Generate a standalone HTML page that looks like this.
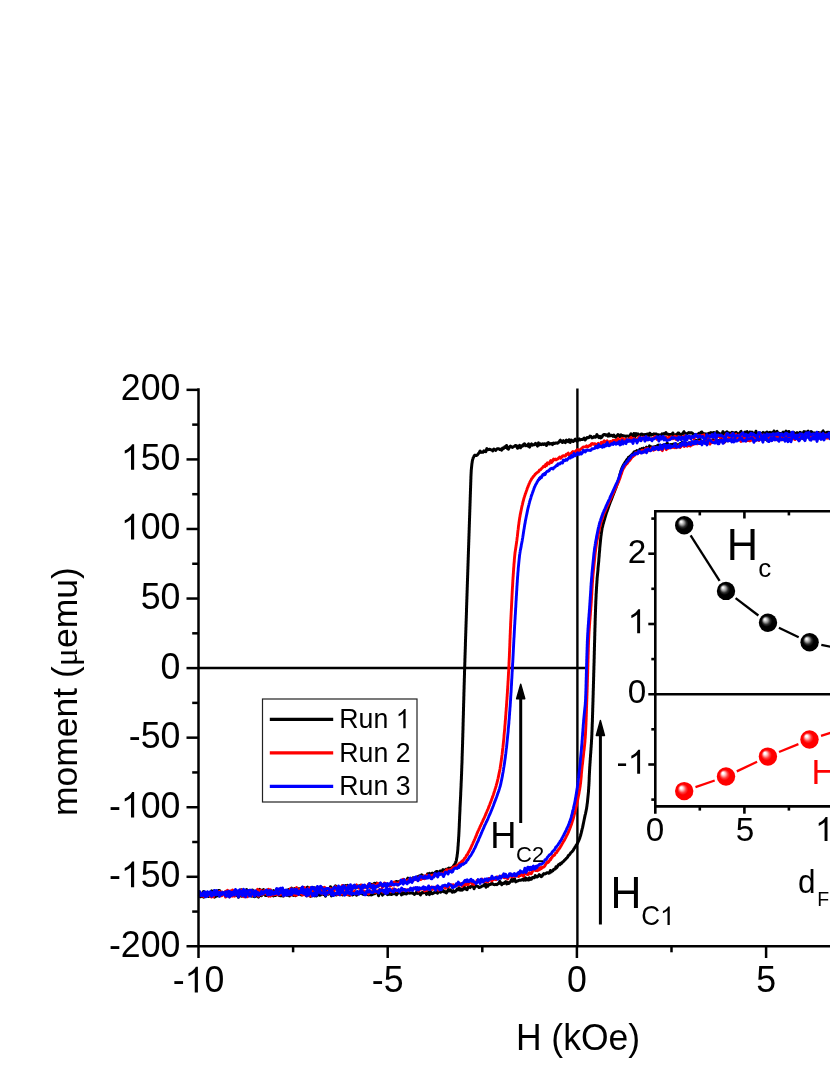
<!DOCTYPE html>
<html><head><meta charset="utf-8"><title>Hysteresis</title>
<style>
html,body{margin:0;padding:0;background:#fff;}
svg{display:block;font-family:"Liberation Sans",sans-serif;}
</style></head>
<body>
<svg width="830" height="1075" viewBox="0 0 830 1075" style="will-change:transform">
<defs>
<radialGradient id="gb" cx="0.5" cy="0.5" r="0.5" fx="0.32" fy="0.30">
<stop offset="0" stop-color="#fff"/><stop offset="0.09" stop-color="#f0f0f0"/><stop offset="0.27" stop-color="#9a9a9a"/><stop offset="0.44" stop-color="#2c2c2c"/><stop offset="0.6" stop-color="#000"/><stop offset="1" stop-color="#000"/>
</radialGradient>
<radialGradient id="gr" cx="0.5" cy="0.5" r="0.5" fx="0.32" fy="0.30">
<stop offset="0" stop-color="#fff"/><stop offset="0.1" stop-color="#fff"/><stop offset="0.24" stop-color="#ffb4b4"/><stop offset="0.42" stop-color="#ff3c3c"/><stop offset="0.58" stop-color="#f00"/><stop offset="1" stop-color="#f00"/>
</radialGradient>
</defs>
<!-- zero lines -->
<g stroke="#000" stroke-width="2.4" fill="none">
<path d="M198.5,668 H585.5"/>
<path d="M577.4,388.5 V946"/>
</g>
<!-- data curves -->
<g fill="none" stroke-width="3.1" stroke-linejoin="round" stroke-linecap="round">
<path d="M832.0,432.9 L831.0,434.3 L830.0,434.1 L829.0,432.3 L828.0,432.5 L827.0,432.3 L826.0,433.4 L825.0,432.7 L824.0,433.6 L823.0,430.8 L822.0,434.5 L821.0,432.8 L820.0,433.6 L819.0,432.7 L818.0,432.5 L817.0,433.5 L816.0,433.8 L815.0,432.9 L814.0,432.9 L813.0,433.9 L812.0,432.2 L811.0,431.5 L810.0,433.6 L809.0,432.5 L808.0,431.1 L807.0,432.2 L806.0,432.6 L805.0,431.8 L804.0,431.6 L803.0,433.1 L802.0,434.0 L801.0,432.8 L800.0,432.3 L799.0,433.5 L798.0,433.8 L797.0,432.7 L796.0,433.6 L795.0,434.1 L794.0,432.7 L793.0,432.2 L792.0,433.3 L791.0,433.2 L790.0,434.1 L789.0,431.5 L788.0,432.2 L787.0,432.0 L786.0,431.1 L785.0,433.1 L784.0,433.5 L783.0,432.2 L782.0,434.5 L781.0,433.8 L780.0,433.5 L779.0,433.2 L778.0,433.8 L777.0,431.4 L776.0,433.5 L775.0,433.5 L774.0,431.0 L773.0,433.2 L772.0,432.5 L771.0,433.6 L770.0,432.4 L769.0,432.9 L768.0,433.3 L767.0,432.0 L766.0,433.7 L765.0,432.9 L764.0,433.6 L763.0,432.4 L762.0,434.2 L761.0,433.7 L760.0,432.9 L759.0,433.8 L758.0,434.2 L757.0,434.8 L756.0,431.3 L755.0,433.9 L754.0,433.5 L753.0,433.0 L752.0,432.1 L751.0,434.6 L750.0,432.0 L749.0,433.9 L748.0,434.6 L747.0,431.6 L746.0,433.1 L745.0,432.1 L744.0,433.7 L743.0,435.0 L742.0,435.4 L741.0,431.4 L740.0,432.6 L739.0,433.9 L738.0,434.8 L737.0,433.5 L736.0,432.3 L735.0,433.3 L734.0,433.0 L733.0,432.8 L732.0,432.2 L731.0,433.4 L730.0,433.4 L729.0,433.0 L728.0,432.8 L727.0,431.8 L725.9,432.6 L724.9,434.4 L723.9,433.0 L722.9,431.7 L721.9,434.7 L720.9,433.9 L719.9,435.3 L718.9,433.4 L717.9,432.8 L716.9,431.6 L715.9,434.6 L714.9,435.2 L713.9,432.4 L712.9,432.6 L711.9,434.0 L710.9,432.6 L709.9,433.2 L708.9,433.2 L707.9,433.8 L706.9,434.8 L705.9,433.8 L704.9,434.9 L703.9,433.6 L702.9,434.4 L701.9,432.0 L700.9,432.4 L699.9,434.6 L698.9,433.3 L697.9,434.4 L696.9,434.4 L695.9,435.2 L694.9,434.6 L693.9,434.8 L692.9,433.6 L691.9,432.8 L690.9,432.8 L689.9,433.1 L688.9,432.6 L687.9,433.2 L686.9,433.6 L685.9,433.9 L684.9,433.3 L683.9,431.7 L682.9,433.6 L681.9,434.0 L680.9,434.9 L679.9,434.4 L678.9,433.1 L677.9,433.1 L676.9,435.7 L675.9,434.6 L674.9,435.8 L673.9,435.8 L672.9,433.0 L671.9,434.3 L670.9,434.4 L669.9,434.5 L668.9,434.5 L667.9,434.2 L666.9,434.2 L665.9,432.5 L664.9,434.1 L663.9,433.5 L662.9,434.5 L661.9,433.9 L660.9,435.0 L659.9,435.3 L658.9,434.8 L657.9,434.7 L656.9,434.4 L655.9,433.9 L654.9,434.3 L653.9,433.8 L652.9,434.8 L651.9,434.5 L650.9,435.2 L649.9,433.2 L648.9,435.6 L647.9,433.9 L646.9,434.1 L645.9,434.7 L644.9,434.4 L643.9,435.3 L642.9,434.5 L641.9,434.0 L640.9,434.2 L639.9,436.4 L638.9,435.1 L637.9,433.9 L636.9,435.2 L635.9,433.5 L634.9,437.0 L633.9,433.5 L632.9,435.7 L631.9,435.8 L630.9,433.8 L629.9,435.8 L628.9,436.5 L627.9,436.1 L626.9,435.9 L625.9,436.7 L624.9,435.9 L623.9,436.0 L622.9,435.6 L621.9,436.5 L620.9,434.8 L619.9,436.6 L618.9,435.2 L617.9,434.5 L616.9,436.0 L615.9,437.4 L614.9,436.6 L613.9,435.1 L612.9,436.4 L611.9,435.2 L610.9,435.6 L609.9,435.9 L608.9,433.9 L607.9,436.1 L606.9,434.8 L605.9,435.3 L604.9,434.5 L603.9,434.5 L602.9,435.2 L601.9,437.1 L600.9,438.0 L599.9,436.3 L598.9,437.6 L597.9,436.2 L596.9,434.6 L596.0,436.8 L595.0,437.3 L594.0,436.6 L593.0,437.5 L592.0,437.9 L591.0,436.5 L590.0,436.1 L589.0,437.5 L588.0,437.7 L587.0,437.5 L586.0,439.0 L585.1,439.9 L584.1,438.0 L583.1,439.3 L582.1,439.6 L581.1,439.5 L580.1,440.0 L579.1,438.8 L578.1,440.0 L577.1,441.4 L576.2,440.4 L575.2,439.1 L574.2,440.7 L573.2,441.5 L572.2,440.7 L571.2,440.0 L570.2,442.4 L569.2,439.7 L568.2,441.6 L567.3,441.1 L566.3,440.0 L565.3,442.6 L564.3,441.9 L563.3,440.6 L562.3,442.5 L561.3,441.6 L560.3,440.2 L559.3,441.5 L558.4,442.6 L557.4,443.2 L556.4,442.9 L555.4,443.0 L554.4,443.6 L553.4,443.0 L552.4,444.6 L551.4,443.5 L550.4,443.8 L549.4,444.1 L548.4,442.6 L547.5,443.1 L546.5,445.5 L545.5,444.2 L544.5,443.7 L543.5,444.5 L542.5,443.8 L541.5,444.7 L540.5,443.8 L539.5,444.8 L538.5,442.9 L537.5,446.1 L536.5,444.3 L535.5,443.3 L534.5,444.7 L533.5,444.7 L532.5,445.2 L531.5,443.9 L530.5,445.5 L529.5,447.1 L528.5,443.9 L527.5,445.9 L526.5,445.3 L525.5,445.7 L524.5,443.8 L523.5,444.5 L522.5,446.3 L521.5,445.9 L520.5,447.8 L519.5,445.4 L518.5,446.5 L517.5,448.3 L516.5,445.6 L515.5,445.4 L514.5,446.4 L513.5,446.6 L512.5,447.5 L511.5,446.9 L510.5,446.1 L509.5,447.2 L508.5,449.2 L507.6,448.7 L506.6,445.5 L505.6,447.5 L504.6,446.9 L503.6,448.6 L502.6,448.0 L501.6,450.1 L500.7,449.3 L499.7,449.4 L498.7,448.8 L497.7,448.7 L496.7,449.2 L495.8,450.4 L494.8,449.8 L493.8,449.0 L492.8,450.9 L491.8,449.9 L490.8,449.8 L489.8,449.2 L488.8,449.6 L487.8,449.7 L486.8,448.6 L485.8,451.7 L484.9,451.4 L483.9,450.9 L482.9,452.3 L482.0,452.1 L481.1,452.4 L480.1,451.0 L479.2,452.7 L478.3,453.7 L477.4,455.0 L476.5,455.5 L475.7,455.6 L475.0,455.1 L474.3,455.7 L473.6,457.2 L473.1,458.0 L472.9,458.9 L472.6,459.8 L472.4,460.8 L472.2,461.8 L472.1,462.8 L471.9,463.8 L471.8,464.8 L471.7,465.8 L471.6,466.8 L471.5,467.8 L471.4,468.8 L471.3,469.8 L471.2,470.8 L471.2,471.8 L471.1,472.8 L471.1,473.8 L471.0,474.8 L471.0,475.8 L470.9,476.8 L470.9,477.8 L470.9,478.8 L470.8,479.8 L470.8,480.8 L470.8,481.8 L470.7,482.8 L470.7,483.8 L470.7,484.8 L470.6,485.8 L470.6,486.8 L470.6,487.8 L470.5,488.8 L470.5,489.8 L470.5,490.8 L470.4,491.8 L470.4,492.8 L470.4,493.8 L470.3,494.8 L470.3,495.8 L470.3,496.8 L470.2,497.8 L470.2,498.8 L470.2,499.8 L470.1,500.8 L470.1,501.8 L470.1,502.8 L470.0,503.8 L470.0,504.8 L470.0,505.8 L469.9,506.8 L469.9,507.8 L469.9,508.8 L469.8,509.8 L469.8,510.8 L469.8,511.8 L469.7,512.8 L469.7,513.8 L469.7,514.8 L469.6,515.8 L469.6,516.8 L469.6,517.8 L469.5,518.8 L469.5,519.8 L469.5,520.8 L469.4,521.8 L469.4,522.8 L469.4,523.8 L469.3,524.8 L469.3,525.8 L469.3,526.8 L469.2,527.8 L469.2,528.8 L469.2,529.8 L469.1,530.8 L469.1,531.8 L469.1,532.8 L469.0,533.8 L469.0,534.8 L469.0,535.8 L468.9,536.8 L468.9,537.8 L468.9,538.8 L468.8,539.8 L468.8,540.8 L468.8,541.8 L468.7,542.8 L468.7,543.8 L468.7,544.8 L468.6,545.8 L468.6,546.8 L468.6,547.8 L468.5,548.8 L468.5,549.8 L468.5,550.8 L468.4,551.8 L468.4,552.8 L468.4,553.8 L468.3,554.8 L468.3,555.8 L468.3,556.8 L468.2,557.8 L468.2,558.8 L468.2,559.8 L468.1,560.8 L468.1,561.8 L468.1,562.8 L468.0,563.8 L468.0,564.8 L468.0,565.8 L467.9,566.8 L467.9,567.8 L467.9,568.8 L467.8,569.8 L467.8,570.8 L467.8,571.8 L467.7,572.8 L467.7,573.8 L467.7,574.8 L467.6,575.8 L467.6,576.8 L467.6,577.8 L467.5,578.8 L467.5,579.8 L467.5,580.8 L467.4,581.8 L467.4,582.8 L467.4,583.8 L467.3,584.8 L467.3,585.8 L467.3,586.8 L467.2,587.8 L467.2,588.8 L467.2,589.8 L467.1,590.8 L467.1,591.8 L467.1,592.8 L467.0,593.8 L467.0,594.8 L467.0,595.8 L466.9,596.8 L466.9,597.8 L466.9,598.8 L466.8,599.8 L466.8,600.8 L466.8,601.8 L466.7,602.8 L466.7,603.8 L466.7,604.8 L466.6,605.8 L466.6,606.8 L466.6,607.8 L466.5,608.8 L466.5,609.8 L466.5,610.8 L466.5,611.8 L466.4,612.8 L466.4,613.8 L466.4,614.8 L466.3,615.8 L466.3,616.8 L466.3,617.8 L466.2,618.8 L466.2,619.8 L466.2,620.8 L466.1,621.8 L466.1,622.8 L466.1,623.8 L466.0,624.8 L466.0,625.8 L466.0,626.8 L465.9,627.8 L465.9,628.8 L465.9,629.8 L465.8,630.8 L465.8,631.8 L465.8,632.8 L465.7,633.8 L465.7,634.8 L465.7,635.8 L465.6,636.8 L465.6,637.8 L465.6,638.8 L465.5,639.8 L465.5,640.8 L465.5,641.8 L465.4,642.8 L465.4,643.8 L465.4,644.8 L465.4,645.8 L465.3,646.8 L465.3,647.8 L465.3,648.8 L465.2,649.8 L465.2,650.8 L465.2,651.8 L465.1,652.8 L465.1,653.8 L465.1,654.8 L465.0,655.8 L465.0,656.8 L465.0,657.8 L464.9,658.8 L464.9,659.8 L464.9,660.8 L464.9,661.8 L464.8,662.8 L464.8,663.8 L464.8,664.8 L464.7,665.8 L464.7,666.8 L464.7,667.8 L464.6,668.8 L464.6,669.8 L464.6,670.8 L464.5,671.8 L464.5,672.8 L464.5,673.8 L464.5,674.8 L464.4,675.8 L464.4,676.8 L464.4,677.8 L464.3,678.8 L464.3,679.8 L464.3,680.8 L464.3,681.8 L464.2,682.8 L464.2,683.8 L464.2,684.8 L464.1,685.8 L464.1,686.8 L464.1,687.8 L464.1,688.8 L464.0,689.8 L464.0,690.8 L464.0,691.8 L463.9,692.8 L463.9,693.8 L463.9,694.8 L463.9,695.8 L463.8,696.8 L463.8,697.8 L463.8,698.8 L463.8,699.8 L463.7,700.8 L463.7,701.8 L463.7,702.8 L463.6,703.8 L463.6,704.8 L463.6,705.8 L463.6,706.8 L463.5,707.8 L463.5,708.8 L463.5,709.8 L463.5,710.8 L463.4,711.8 L463.4,712.8 L463.4,713.8 L463.4,714.8 L463.3,715.8 L463.3,716.8 L463.3,717.8 L463.2,718.8 L463.2,719.8 L463.2,720.8 L463.2,721.8 L463.1,722.8 L463.1,723.8 L463.1,724.8 L463.1,725.8 L463.0,726.8 L463.0,727.8 L463.0,728.8 L463.0,729.8 L462.9,730.8 L462.9,731.8 L462.9,732.8 L462.8,733.8 L462.8,734.8 L462.8,735.8 L462.8,736.8 L462.7,737.8 L462.7,738.8 L462.7,739.8 L462.6,740.8 L462.6,741.8 L462.6,742.8 L462.6,743.8 L462.5,744.8 L462.5,745.8 L462.5,746.8 L462.4,747.8 L462.4,748.8 L462.4,749.8 L462.3,750.8 L462.3,751.8 L462.3,752.8 L462.2,753.8 L462.2,754.8 L462.2,755.8 L462.1,756.8 L462.1,757.8 L462.1,758.8 L462.1,759.8 L462.0,760.8 L462.0,761.8 L462.0,762.8 L461.9,763.8 L461.9,764.8 L461.8,765.8 L461.8,766.8 L461.8,767.8 L461.7,768.8 L461.7,769.8 L461.7,770.8 L461.6,771.8 L461.6,772.8 L461.6,773.8 L461.5,774.8 L461.5,775.8 L461.4,776.8 L461.4,777.8 L461.4,778.8 L461.3,779.8 L461.3,780.8 L461.2,781.8 L461.2,782.8 L461.1,783.8 L461.1,784.8 L461.1,785.8 L461.0,786.8 L461.0,787.8 L460.9,788.8 L460.9,789.8 L460.8,790.8 L460.8,791.8 L460.7,792.8 L460.7,793.8 L460.7,794.8 L460.6,795.8 L460.6,796.8 L460.5,797.8 L460.5,798.8 L460.4,799.8 L460.4,800.8 L460.3,801.8 L460.3,802.8 L460.2,803.8 L460.2,804.8 L460.1,805.8 L460.1,806.8 L460.0,807.8 L460.0,808.8 L460.0,809.8 L459.9,810.8 L459.9,811.8 L459.8,812.8 L459.8,813.8 L459.7,814.8 L459.7,815.8 L459.6,816.8 L459.6,817.8 L459.6,818.8 L459.5,819.8 L459.5,820.8 L459.4,821.8 L459.4,822.8 L459.3,823.8 L459.3,824.8 L459.3,825.8 L459.2,826.8 L459.2,827.8 L459.1,828.8 L459.1,829.8 L459.0,830.8 L459.0,831.8 L458.9,832.8 L458.9,833.8 L458.8,834.8 L458.8,835.8 L458.7,836.8 L458.6,837.8 L458.6,838.8 L458.5,839.8 L458.5,840.8 L458.4,841.8 L458.3,842.8 L458.2,843.8 L458.2,844.8 L458.1,845.8 L458.0,846.8 L457.9,847.8 L457.9,848.8 L457.8,849.8 L457.7,850.8 L457.6,851.8 L457.5,852.8 L457.4,853.8 L457.2,854.8 L457.1,855.8 L457.0,856.8 L456.8,857.8 L456.6,858.7 L456.5,859.7 L456.3,860.6 L456.0,861.6 L455.6,862.6 L455.2,863.4 L454.7,864.6 L454.2,865.0 L453.6,865.8 L452.9,867.0 L452.1,867.5 L451.3,868.5 L450.5,868.2 L449.6,868.4 L448.7,868.0 L447.8,868.8 L446.9,869.2 L445.9,869.2 L445.0,871.1 L444.0,870.5 L443.0,869.6 L442.0,873.3 L441.0,871.0 L440.1,870.9 L439.1,873.4 L438.1,873.6 L437.2,871.6 L436.2,871.5 L435.3,872.3 L434.3,874.6 L433.3,873.4 L432.3,873.1 L431.4,874.1 L430.4,875.6 L429.4,873.3 L428.4,874.4 L427.5,873.8 L426.5,877.2 L425.5,877.4 L424.5,876.8 L423.5,876.0 L422.6,877.0 L421.6,874.8 L420.6,877.1 L419.6,875.8 L418.7,876.1 L417.7,876.9 L416.7,877.4 L415.7,878.6 L414.8,879.0 L413.8,878.8 L412.8,877.9 L411.8,879.7 L410.9,879.1 L409.9,880.7 L408.9,878.9 L407.9,878.1 L407.0,879.7 L406.0,882.2 L405.0,881.0 L404.0,880.6 L403.1,881.9 L402.1,881.6 L401.1,881.7 L400.1,881.0 L399.1,881.7 L398.2,882.1 L397.2,881.6 L396.2,881.4 L395.2,882.8 L394.2,883.9 L393.3,883.8 L392.3,883.9 L391.3,884.0 L390.3,885.6 L389.3,884.1 L388.3,885.1 L387.3,886.0 L386.4,884.3 L385.4,884.5 L384.4,885.4 L383.4,886.1 L382.4,884.8 L381.4,884.9 L380.4,884.7 L379.4,883.6 L378.4,886.1 L377.4,884.7 L376.4,883.2 L375.4,885.0 L374.4,883.3 L373.4,884.2 L372.4,885.3 L371.4,884.3 L370.4,886.5 L369.4,883.9 L368.4,885.8 L367.4,886.2 L366.4,887.3 L365.4,886.8 L364.4,886.2 L363.4,886.0 L362.4,885.9 L361.4,887.1 L360.4,885.3 L359.4,886.6 L358.4,886.0 L357.4,886.3 L356.4,885.8 L355.4,888.2 L354.4,885.6 L353.4,886.6 L352.4,886.6 L351.4,887.1 L350.4,887.1 L349.4,887.0 L348.4,887.7 L347.4,885.3 L346.4,887.0 L345.4,885.7 L344.4,887.3 L343.4,885.8 L342.4,886.0 L341.4,887.1 L340.4,888.9 L339.4,888.1 L338.4,887.7 L337.4,889.1 L336.4,886.8 L335.4,885.8 L334.4,887.5 L333.5,887.7 L332.5,889.4 L331.5,890.0 L330.5,886.7 L329.5,890.1 L328.5,889.8 L327.5,889.2 L326.5,888.9 L325.5,890.4 L324.5,888.6 L323.5,888.0 L322.5,888.6 L321.5,887.3 L320.5,889.2 L319.5,888.7 L318.5,889.2 L317.5,889.3 L316.5,887.8 L315.5,890.3 L314.5,887.9 L313.5,889.9 L312.5,887.4 L311.5,889.5 L310.5,888.2 L309.5,889.1 L308.5,888.4 L307.5,887.1 L306.5,888.0 L305.5,889.3 L304.5,889.9 L303.5,887.8 L302.5,887.3 L301.5,888.4 L300.5,889.1 L299.5,888.7 L298.5,888.7 L297.5,890.4 L296.5,890.5 L295.5,890.4 L294.5,888.6 L293.5,889.7 L292.5,889.5 L291.5,888.2 L290.5,890.8 L289.5,890.1 L288.5,889.5 L287.5,891.5 L286.5,890.8 L285.5,891.0 L284.5,891.5 L283.5,891.1 L282.5,889.1 L281.5,890.0 L280.5,891.6 L279.5,889.8 L278.5,890.6 L277.5,891.1 L276.5,892.2 L275.5,892.1 L274.5,891.7 L273.5,890.6 L272.5,891.8 L271.5,891.2 L270.5,890.5 L269.5,892.1 L268.5,891.3 L267.5,890.1 L266.5,892.3 L265.5,890.7 L264.5,891.7 L263.5,889.6 L262.5,891.3 L261.5,890.3 L260.5,890.3 L259.5,889.4 L258.5,893.5 L257.5,891.3 L256.5,891.7 L255.5,892.7 L254.5,891.3 L253.5,892.0 L252.5,890.1 L251.5,891.7 L250.5,891.2 L249.5,892.2 L248.5,891.8 L247.5,890.2 L246.5,889.6 L245.5,890.5 L244.5,892.4 L243.5,892.2 L242.5,892.2 L241.5,889.8 L240.5,889.9 L239.5,891.3 L238.5,891.6 L237.5,891.2 L236.5,892.4 L235.5,891.9 L234.5,891.0 L233.5,891.3 L232.5,892.4 L231.5,892.3 L230.5,892.2 L229.5,894.3 L228.5,892.0 L227.5,892.4 L226.5,891.3 L225.5,892.0 L224.5,893.0 L223.5,893.1 L222.5,892.3 L221.5,892.8 L220.5,892.5 L219.5,890.5 L218.5,890.5 L217.5,894.6 L216.5,893.5 L215.5,892.7 L214.5,890.9 L213.5,891.4 L212.5,894.2 L211.5,890.9 L210.5,892.6 L209.5,893.9 L208.5,893.2 L207.5,893.8 L206.5,892.9 L205.5,895.1 L204.5,892.0 L203.5,891.6 L202.5,893.4 L201.5,894.6 L200.5,893.1 L199.5,894.2" stroke="#000" stroke-width="3.0"/>
<path d="M199.5,895.5 L200.5,896.7 L201.5,896.4 L202.5,896.4 L203.5,897.2 L204.5,894.2 L205.5,894.8 L206.5,894.1 L207.5,895.3 L208.5,896.5 L209.5,895.4 L210.5,896.0 L211.5,893.5 L212.5,895.4 L213.5,894.4 L214.5,897.1 L215.5,896.2 L216.5,896.2 L217.5,895.1 L218.5,895.8 L219.5,895.9 L220.5,894.8 L221.5,894.5 L222.5,894.9 L223.5,894.3 L224.5,894.4 L225.5,894.7 L226.5,894.3 L227.5,895.9 L228.5,893.5 L229.5,896.0 L230.5,894.5 L231.5,894.6 L232.5,893.8 L233.5,895.1 L234.5,894.9 L235.5,895.5 L236.5,894.7 L237.5,895.4 L238.5,897.2 L239.5,895.5 L240.5,894.6 L241.5,896.2 L242.5,895.0 L243.5,895.7 L244.5,895.8 L245.5,894.7 L246.5,893.1 L247.5,894.6 L248.5,895.6 L249.5,894.6 L250.5,895.4 L251.5,896.1 L252.5,894.4 L253.5,896.3 L254.5,896.7 L255.5,896.1 L256.5,896.1 L257.5,896.2 L258.5,897.1 L259.5,895.3 L260.5,895.0 L261.5,895.7 L262.5,894.2 L263.5,893.5 L264.5,894.3 L265.5,895.5 L266.5,895.5 L267.5,893.4 L268.5,893.0 L269.5,894.5 L270.5,894.6 L271.5,894.7 L272.5,895.5 L273.5,896.0 L274.5,895.1 L275.5,895.5 L276.5,893.6 L277.5,893.5 L278.5,895.1 L279.5,895.5 L280.5,895.7 L281.5,895.7 L282.5,895.9 L283.5,895.9 L284.5,893.2 L285.5,894.2 L286.5,895.2 L287.5,895.3 L288.5,893.1 L289.5,895.9 L290.5,894.2 L291.5,894.4 L292.5,895.0 L293.5,895.5 L294.5,893.2 L295.5,895.7 L296.5,894.7 L297.5,893.9 L298.5,894.5 L299.5,892.8 L300.5,894.2 L301.5,895.0 L302.5,894.0 L303.5,894.3 L304.5,894.4 L305.5,894.6 L306.5,895.6 L307.5,894.5 L308.5,894.3 L309.5,895.1 L310.5,896.5 L311.5,894.2 L312.5,895.0 L313.5,892.8 L314.5,895.9 L315.5,895.2 L316.5,895.9 L317.5,894.4 L318.5,893.4 L319.5,895.3 L320.5,895.0 L321.5,893.3 L322.5,892.6 L323.5,894.5 L324.5,893.9 L325.5,896.2 L326.5,893.5 L327.5,893.6 L328.5,894.1 L329.5,892.4 L330.5,893.1 L331.5,895.9 L332.5,894.0 L333.5,893.5 L334.5,892.8 L335.5,894.8 L336.5,894.9 L337.5,894.4 L338.5,893.8 L339.5,894.5 L340.5,894.7 L341.5,893.6 L342.5,895.0 L343.5,892.3 L344.5,893.0 L345.5,894.1 L346.5,894.3 L347.5,893.1 L348.5,894.5 L349.5,895.3 L350.5,894.6 L351.5,894.3 L352.5,894.9 L353.5,894.4 L354.5,892.7 L355.5,893.6 L356.5,895.2 L357.5,892.7 L358.5,893.9 L359.5,893.6 L360.5,893.2 L361.5,893.0 L362.5,894.0 L363.5,894.4 L364.5,894.3 L365.5,892.5 L366.5,893.7 L367.5,894.4 L368.5,894.9 L369.5,894.6 L370.5,894.8 L371.5,894.9 L372.5,894.6 L373.5,892.9 L374.5,893.8 L375.5,892.9 L376.5,891.6 L377.5,891.9 L378.5,895.7 L379.5,892.5 L380.5,891.7 L381.5,893.0 L382.5,895.1 L383.5,893.4 L384.5,893.8 L385.5,893.1 L386.5,893.3 L387.5,894.7 L388.5,894.3 L389.5,893.4 L390.5,894.4 L391.5,894.6 L392.5,893.2 L393.5,893.8 L394.5,893.8 L395.5,892.9 L396.5,894.8 L397.5,893.4 L398.5,893.0 L399.5,891.9 L400.5,892.2 L401.5,894.9 L402.5,892.2 L403.5,893.9 L404.5,893.0 L405.5,893.8 L406.5,893.9 L407.5,892.3 L408.5,892.8 L409.5,893.2 L410.5,893.1 L411.5,893.0 L412.5,892.7 L413.5,893.8 L414.5,894.4 L415.5,893.6 L416.5,892.2 L417.5,893.4 L418.5,893.0 L419.5,893.6 L420.5,895.0 L421.5,892.8 L422.5,893.1 L423.5,892.1 L424.5,892.5 L425.5,892.3 L426.5,894.5 L427.5,893.1 L428.5,892.1 L429.5,894.6 L430.5,891.3 L431.5,893.5 L432.5,893.7 L433.5,893.2 L434.5,892.3 L435.5,892.4 L436.5,892.2 L437.5,893.2 L438.5,890.3 L439.5,891.7 L440.5,892.3 L441.5,891.6 L442.5,890.2 L443.5,891.7 L444.4,891.0 L445.4,892.4 L446.4,892.9 L447.4,891.4 L448.4,889.3 L449.4,890.8 L450.4,889.9 L451.4,891.3 L452.3,892.2 L453.3,890.7 L454.3,892.0 L455.3,891.5 L456.3,890.5 L457.3,888.8 L458.2,889.7 L459.2,887.9 L460.2,890.2 L461.2,889.1 L462.2,890.2 L463.2,889.1 L464.2,886.6 L465.2,889.0 L466.1,889.1 L467.1,889.7 L468.1,886.9 L469.1,886.8 L470.1,887.6 L471.1,886.3 L472.1,885.8 L473.1,886.0 L474.1,888.8 L475.1,886.1 L476.1,885.6 L477.0,886.2 L478.0,886.4 L479.0,887.6 L480.0,887.2 L481.0,886.9 L482.0,886.0 L483.0,886.0 L484.0,885.1 L485.0,884.0 L486.0,887.2 L487.0,884.6 L487.9,886.1 L488.9,884.5 L489.9,884.6 L490.9,884.3 L491.9,882.9 L492.9,884.1 L493.9,884.5 L494.9,884.7 L495.9,884.3 L496.9,884.7 L497.8,883.8 L498.8,883.5 L499.8,881.4 L500.8,882.8 L501.8,884.7 L502.8,883.2 L503.8,883.6 L504.8,882.4 L505.8,881.6 L506.7,884.0 L507.7,882.4 L508.7,883.4 L509.7,882.4 L510.7,881.3 L511.7,879.4 L512.7,881.3 L513.7,879.5 L514.6,878.9 L515.6,881.9 L516.6,881.3 L517.6,881.1 L518.6,880.4 L519.6,880.1 L520.5,880.3 L521.5,879.8 L522.5,879.6 L523.5,880.2 L524.5,877.3 L525.5,880.2 L526.5,878.4 L527.5,879.9 L528.5,880.1 L529.4,877.9 L530.4,879.4 L531.4,879.2 L532.4,877.5 L533.4,877.5 L534.4,877.8 L535.3,875.6 L536.3,876.7 L537.3,877.0 L538.2,876.1 L539.2,874.7 L540.1,875.4 L541.1,876.7 L542.0,876.2 L542.9,874.6 L543.9,873.6 L544.8,874.0 L545.7,873.7 L546.7,872.7 L547.7,872.7 L548.6,873.2 L549.5,873.1 L550.4,870.5 L551.2,872.0 L552.1,870.9 L552.9,870.7 L553.6,869.5 L554.4,869.2 L555.2,869.1 L556.0,866.7 L556.7,867.8 L557.5,866.5 L558.3,864.9 L559.0,864.3 L559.8,864.7 L560.5,863.4 L561.3,863.7 L562.0,862.7 L562.8,861.8 L563.5,861.5 L564.2,860.5 L564.9,860.0 L565.6,859.3 L566.3,858.4 L567.0,857.8 L567.7,857.0 L568.3,855.6 L569.0,855.2 L569.7,854.5 L570.3,853.6 L570.9,852.6 L571.6,852.1 L572.2,851.5 L572.8,850.7 L573.3,850.2 L573.9,848.9 L574.5,848.1 L575.0,847.2 L575.6,846.4 L576.1,845.6 L576.6,844.5 L577.1,844.0 L577.6,843.1 L578.0,842.2 L578.5,841.1 L578.9,840.3 L579.2,839.5 L579.6,838.5 L579.9,837.5 L580.2,836.6 L580.5,835.7 L580.8,834.7 L581.0,833.7 L581.3,832.7 L581.5,831.8 L581.8,830.8 L582.0,829.8 L582.2,828.8 L582.5,827.9 L582.7,826.9 L582.9,825.9 L583.1,824.9 L583.3,823.9 L583.5,823.0 L583.7,822.0 L583.9,821.0 L584.1,820.0 L584.3,819.0 L584.5,818.1 L584.7,817.1 L584.9,816.1 L585.1,815.1 L585.4,814.1 L585.6,813.2 L585.8,812.2 L586.0,811.2 L586.2,810.2 L586.4,809.2 L586.6,808.3 L586.7,807.3 L586.9,806.3 L587.0,805.3 L587.1,804.3 L587.3,803.3 L587.4,802.3 L587.5,801.3 L587.6,800.3 L587.7,799.4 L587.8,798.4 L587.9,797.4 L588.0,796.4 L588.1,795.4 L588.2,794.4 L588.3,793.4 L588.4,792.4 L588.5,791.4 L588.5,790.4 L588.6,789.4 L588.7,788.4 L588.7,787.4 L588.8,786.4 L588.9,785.4 L588.9,784.4 L589.0,783.4 L589.0,782.4 L589.1,781.4 L589.1,780.4 L589.2,779.4 L589.2,778.4 L589.2,777.4 L589.3,776.4 L589.3,775.4 L589.4,774.4 L589.4,773.4 L589.5,772.4 L589.5,771.4 L589.6,770.4 L589.6,769.4 L589.7,768.4 L589.7,767.4 L589.8,766.4 L589.9,765.4 L589.9,764.4 L590.0,763.4 L590.1,762.4 L590.1,761.4 L590.2,760.4 L590.3,759.4 L590.3,758.4 L590.4,757.4 L590.5,756.4 L590.5,755.4 L590.6,754.4 L590.7,753.4 L590.8,752.4 L590.8,751.4 L590.9,750.4 L591.0,749.4 L591.0,748.5 L591.1,747.5 L591.2,746.5 L591.2,745.5 L591.3,744.5 L591.4,743.5 L591.4,742.5 L591.5,741.5 L591.5,740.5 L591.6,739.5 L591.7,738.5 L591.7,737.5 L591.8,736.5 L591.8,735.5 L591.9,734.5 L591.9,733.5 L591.9,732.5 L592.0,731.5 L592.0,730.5 L592.1,729.5 L592.1,728.5 L592.1,727.5 L592.2,726.5 L592.2,725.5 L592.2,724.5 L592.3,723.5 L592.3,722.5 L592.4,721.5 L592.4,720.5 L592.4,719.5 L592.4,718.5 L592.5,717.5 L592.5,716.5 L592.5,715.5 L592.6,714.5 L592.6,713.5 L592.6,712.5 L592.7,711.5 L592.7,710.5 L592.7,709.5 L592.7,708.5 L592.8,707.5 L592.8,706.5 L592.8,705.5 L592.9,704.5 L592.9,703.5 L592.9,702.5 L593.0,701.5 L593.0,700.5 L593.0,699.5 L593.0,698.5 L593.1,697.5 L593.1,696.5 L593.1,695.5 L593.2,694.5 L593.2,693.5 L593.2,692.5 L593.2,691.5 L593.3,690.5 L593.3,689.5 L593.3,688.5 L593.4,687.5 L593.4,686.5 L593.4,685.5 L593.4,684.5 L593.5,683.5 L593.5,682.5 L593.5,681.5 L593.6,680.5 L593.6,679.5 L593.6,678.5 L593.6,677.5 L593.7,676.5 L593.7,675.5 L593.7,674.5 L593.7,673.5 L593.8,672.5 L593.8,671.5 L593.8,670.5 L593.9,669.5 L593.9,668.5 L593.9,667.5 L593.9,666.5 L594.0,665.5 L594.0,664.5 L594.0,663.5 L594.1,662.5 L594.1,661.5 L594.1,660.5 L594.1,659.5 L594.2,658.5 L594.2,657.5 L594.2,656.5 L594.2,655.5 L594.3,654.5 L594.3,653.5 L594.3,652.5 L594.3,651.5 L594.4,650.5 L594.4,649.5 L594.4,648.5 L594.4,647.5 L594.5,646.5 L594.5,645.5 L594.5,644.5 L594.5,643.5 L594.6,642.5 L594.6,641.5 L594.6,640.5 L594.7,639.5 L594.7,638.5 L594.7,637.5 L594.7,636.5 L594.8,635.5 L594.8,634.5 L594.8,633.5 L594.8,632.5 L594.9,631.5 L594.9,630.5 L594.9,629.5 L594.9,628.5 L595.0,627.5 L595.0,626.5 L595.0,625.5 L595.1,624.5 L595.1,623.5 L595.1,622.5 L595.1,621.5 L595.2,620.5 L595.2,619.5 L595.2,618.5 L595.3,617.5 L595.3,616.5 L595.3,615.5 L595.4,614.5 L595.4,613.5 L595.4,612.5 L595.5,611.5 L595.5,610.5 L595.5,609.5 L595.6,608.5 L595.6,607.5 L595.6,606.5 L595.7,605.5 L595.7,604.5 L595.8,603.5 L595.8,602.5 L595.8,601.5 L595.9,600.5 L595.9,599.5 L596.0,598.5 L596.0,597.5 L596.1,596.5 L596.1,595.5 L596.1,594.5 L596.2,593.5 L596.3,592.5 L596.3,591.5 L596.4,590.5 L596.4,589.5 L596.5,588.5 L596.5,587.5 L596.6,586.5 L596.7,585.5 L596.7,584.5 L596.8,583.6 L596.9,582.6 L596.9,581.6 L597.0,580.6 L597.1,579.6 L597.1,578.6 L597.2,577.6 L597.3,576.6 L597.4,575.6 L597.5,574.6 L597.6,573.6 L597.7,572.6 L597.8,571.6 L597.9,570.6 L598.0,569.6 L598.0,568.6 L598.1,567.6 L598.2,566.6 L598.3,565.6 L598.4,564.6 L598.5,563.6 L598.6,562.6 L598.7,561.6 L598.8,560.6 L598.8,559.6 L598.9,558.6 L599.0,557.6 L599.1,556.6 L599.2,555.6 L599.2,554.7 L599.3,553.7 L599.4,552.7 L599.5,551.7 L599.6,550.7 L599.7,549.7 L599.7,548.7 L599.8,547.7 L599.9,546.7 L600.0,545.7 L600.1,544.7 L600.2,543.7 L600.3,542.7 L600.4,541.7 L600.5,540.7 L600.6,539.7 L600.7,538.7 L600.8,537.7 L600.9,536.7 L601.0,535.7 L601.2,534.7 L601.3,533.7 L601.4,532.8 L601.6,531.8 L601.7,530.8 L601.9,529.8 L602.0,528.8 L602.2,527.8 L602.5,526.9 L602.7,525.9 L602.9,524.9 L603.2,523.9 L603.5,523.0 L603.7,522.0 L604.0,521.0 L604.3,520.1 L604.6,519.1 L604.8,518.2 L605.1,517.2 L605.4,516.2 L605.7,515.3 L606.0,514.4 L606.3,513.4 L606.6,512.4 L607.0,511.5 L607.3,510.5 L607.6,509.6 L608.0,508.6 L608.3,507.7 L608.6,506.8 L609.0,505.8 L609.3,504.9 L609.6,504.0 L610.0,503.0 L610.3,502.0 L610.7,501.2 L611.1,500.2 L611.4,499.4 L611.8,498.4 L612.2,497.5 L612.5,496.4 L612.9,495.5 L613.3,494.6 L613.6,493.7 L614.0,492.7 L614.4,491.8 L614.7,490.9 L615.1,489.9 L615.4,489.0 L615.8,488.1 L616.1,487.3 L616.5,486.2 L616.8,485.3 L617.2,484.3 L617.5,483.4 L617.8,482.4 L618.2,481.6 L618.4,480.6 L618.7,479.6 L619.0,478.6 L619.2,477.6 L619.5,476.7 L619.7,475.6 L619.9,474.7 L620.2,473.7 L620.5,472.7 L620.7,471.7 L621.0,470.8 L621.3,469.9 L621.6,469.0 L622.0,468.0 L622.4,467.2 L622.8,466.2 L623.3,465.3 L623.8,464.3 L624.3,463.8 L624.8,462.7 L625.4,462.0 L626.0,461.1 L626.6,460.0 L627.2,459.3 L627.8,458.9 L628.4,457.5 L629.1,457.2 L629.8,456.4 L630.5,455.9 L631.2,455.2 L631.9,454.6 L632.7,453.6 L633.4,453.1 L634.2,451.9 L635.1,451.5 L636.0,452.2 L636.9,450.6 L637.9,451.6 L638.8,451.4 L639.8,449.4 L640.7,450.3 L641.7,448.7 L642.6,449.5 L643.6,448.1 L644.6,449.0 L645.5,448.6 L646.5,447.2 L647.5,449.8 L648.5,448.7 L649.5,445.9 L650.5,447.6 L651.5,446.8 L652.4,449.0 L653.4,446.9 L654.4,447.1 L655.4,446.4 L656.4,447.0 L657.4,445.6 L658.4,445.1 L659.4,445.5 L660.4,445.3 L661.4,446.3 L662.3,445.6 L663.3,444.9 L664.3,445.0 L665.3,444.4 L666.3,445.5 L667.3,443.2 L668.3,444.9 L669.3,446.4 L670.3,444.7 L671.3,444.4 L672.3,445.1 L673.3,444.1 L674.3,444.2 L675.3,445.6 L676.3,444.1 L677.3,446.6 L678.3,445.1 L679.3,444.3 L680.3,443.6 L681.3,443.9 L682.3,442.1 L683.2,444.2 L684.2,444.7 L685.2,444.3 L686.2,443.0 L687.2,444.0 L688.2,443.8 L689.2,442.8 L690.2,443.1 L691.2,443.7 L692.2,443.0 L693.2,441.9 L694.1,442.3 L695.1,442.2 L696.1,440.3 L697.1,442.0 L698.1,441.6 L699.1,439.5 L700.1,439.6 L701.1,443.2 L702.1,441.5 L703.1,442.6 L704.1,440.8 L705.1,442.6 L706.1,441.5 L707.1,440.2 L708.1,441.1 L709.1,442.3 L710.1,442.6 L711.1,441.1 L712.1,440.2 L713.1,439.5 L714.1,441.0 L715.1,441.4 L716.1,440.3 L717.1,440.1 L718.1,441.1 L719.1,440.6 L720.0,440.4 L721.0,438.4 L722.0,439.5 L723.0,441.7 L724.0,439.6 L725.0,441.6 L726.0,440.0 L727.0,439.3 L728.0,439.9 L729.0,440.0 L730.0,438.6 L731.0,439.6 L732.0,438.8 L733.0,440.8 L734.0,438.8 L735.0,439.4 L736.0,437.8 L737.0,438.0 L738.0,439.2 L739.0,438.3 L740.0,438.8 L741.0,439.3 L742.0,439.7 L743.0,437.7 L744.0,438.9 L745.0,439.6 L746.0,438.1 L747.0,437.4 L748.0,437.9 L749.0,440.1 L750.0,438.4 L751.0,439.9 L752.0,438.0 L753.0,439.5 L754.0,436.5 L755.0,437.6 L756.0,437.9 L757.0,439.7 L758.0,438.3 L759.0,439.0 L760.0,437.4 L761.0,437.4 L762.0,439.2 L763.0,439.3 L764.0,439.2 L765.0,439.3 L766.0,437.6 L767.0,440.2 L768.0,438.4 L769.0,439.5 L770.0,439.0 L771.0,436.4 L772.0,436.3 L773.0,436.6 L774.0,438.1 L775.0,439.3 L776.0,437.8 L777.0,438.8 L778.0,436.6 L779.0,437.2 L780.0,436.8 L781.0,437.8 L782.0,436.5 L783.0,437.6 L784.0,438.2 L785.0,437.1 L786.0,436.5 L787.0,437.0 L788.0,436.2 L789.0,436.4 L790.0,438.3 L791.0,437.7 L792.0,435.8 L793.0,436.9 L794.0,437.8 L795.0,438.1 L796.0,437.9 L797.0,438.2 L798.0,437.1 L799.0,437.1 L800.0,436.8 L801.0,438.2 L802.0,437.8 L803.0,438.8 L804.0,438.1 L805.0,436.0 L806.0,435.3 L807.0,435.4 L808.0,435.9 L809.0,437.5 L810.0,435.4 L811.0,434.8 L812.0,436.7 L813.0,437.7 L814.0,437.7 L815.0,438.5 L816.0,436.8 L817.0,436.2 L818.0,436.4 L819.0,435.4 L820.0,436.1 L821.0,438.1 L822.0,438.7 L823.0,438.0 L824.0,436.9 L825.0,436.2 L826.0,436.7 L827.0,434.5 L828.0,437.0 L829.0,437.4 L830.0,436.2 L831.0,436.3 L832.0,434.4" stroke="#000" stroke-width="3.0"/>
<path d="M832.0,436.5 L831.0,437.8 L830.0,433.8 L829.0,438.0 L828.0,435.9 L827.0,435.0 L826.0,434.9 L825.0,434.6 L824.0,435.6 L823.0,437.0 L822.0,436.6 L821.0,436.6 L820.0,433.7 L819.0,433.8 L818.0,437.5 L817.0,436.8 L816.0,437.9 L815.0,437.0 L814.0,434.3 L813.0,437.1 L812.0,436.3 L811.0,435.8 L810.0,434.6 L809.0,435.6 L808.0,435.5 L807.0,436.8 L806.0,435.9 L805.0,437.6 L804.0,434.9 L803.0,436.3 L802.0,436.5 L801.0,434.9 L800.0,434.6 L799.0,437.1 L798.0,436.5 L797.0,435.8 L796.0,436.4 L795.0,435.1 L794.0,436.2 L793.0,435.2 L792.0,436.0 L791.0,437.0 L790.0,435.3 L789.0,436.8 L788.0,434.5 L787.0,435.5 L786.0,434.2 L785.0,435.7 L784.0,435.9 L783.0,435.7 L782.0,435.6 L781.0,437.6 L780.0,437.8 L779.0,434.6 L778.0,437.5 L777.0,434.0 L776.0,435.2 L775.0,435.9 L774.0,436.2 L773.0,434.7 L772.0,435.1 L771.0,436.0 L770.0,435.0 L769.0,435.0 L768.0,436.6 L767.0,436.9 L766.0,435.8 L765.0,436.0 L764.0,435.8 L763.0,435.3 L762.0,435.3 L761.0,434.6 L760.0,436.7 L759.0,435.9 L758.0,435.9 L757.0,436.3 L756.0,436.7 L755.0,437.8 L754.0,435.8 L753.0,435.6 L752.0,436.3 L751.0,435.1 L750.0,437.7 L749.0,437.3 L748.0,437.0 L747.0,436.0 L746.0,437.0 L745.0,437.5 L744.0,436.8 L743.0,435.7 L742.0,434.1 L741.0,437.1 L740.0,435.7 L739.0,435.1 L738.0,437.1 L737.0,436.5 L736.0,434.3 L735.0,435.9 L734.0,435.7 L733.0,437.2 L732.0,433.8 L731.0,435.7 L730.0,435.9 L729.0,437.8 L728.0,434.8 L727.0,433.8 L726.0,434.4 L725.0,436.4 L724.0,437.2 L723.0,438.3 L722.0,436.8 L721.0,435.4 L720.0,437.5 L719.0,436.5 L718.0,436.3 L717.0,436.7 L716.0,438.2 L715.0,435.7 L714.0,435.5 L713.0,436.8 L712.0,436.7 L711.0,435.8 L710.0,435.8 L709.0,437.3 L708.0,438.5 L707.0,437.7 L706.0,437.8 L705.0,438.4 L704.0,434.8 L703.0,435.1 L702.0,436.1 L701.0,435.5 L700.0,435.8 L699.0,437.1 L698.0,435.6 L697.0,436.5 L696.0,434.8 L695.0,435.9 L694.0,438.8 L693.0,436.5 L692.0,437.5 L691.0,438.1 L690.0,436.6 L689.0,437.9 L688.0,437.5 L687.0,438.1 L686.0,436.5 L685.0,435.7 L684.0,436.2 L683.0,436.7 L682.0,437.9 L681.0,437.1 L680.0,436.9 L679.0,437.1 L678.0,438.7 L677.0,436.8 L676.0,439.5 L675.0,436.2 L674.0,437.0 L673.0,438.8 L672.0,438.4 L671.0,436.8 L670.0,437.8 L669.0,437.1 L668.0,438.9 L667.0,438.6 L666.0,437.1 L665.0,438.4 L664.0,437.4 L663.0,437.9 L662.0,438.0 L661.0,437.3 L660.0,438.5 L659.0,438.5 L658.0,438.5 L657.0,439.4 L656.0,437.8 L655.0,436.5 L654.0,437.7 L653.0,438.6 L652.0,438.4 L651.0,439.0 L650.0,439.3 L649.0,438.2 L648.0,438.3 L647.0,437.3 L646.0,439.9 L645.0,438.3 L644.0,437.3 L643.0,437.3 L642.0,438.2 L641.0,440.6 L640.0,439.7 L639.0,436.8 L638.0,438.8 L637.0,439.4 L636.0,439.8 L635.0,439.5 L634.0,438.4 L633.0,439.8 L632.0,438.9 L631.0,437.4 L630.0,438.9 L629.0,439.0 L628.0,441.0 L627.0,441.2 L626.0,438.9 L625.0,440.3 L624.0,440.4 L623.0,438.7 L622.0,438.2 L621.0,440.4 L620.0,440.7 L619.0,439.9 L618.0,438.6 L617.1,440.9 L616.1,440.5 L615.1,440.3 L614.1,441.0 L613.1,440.2 L612.1,442.3 L611.1,441.9 L610.1,441.4 L609.1,442.6 L608.1,442.4 L607.1,440.8 L606.1,442.5 L605.1,442.2 L604.2,440.8 L603.2,442.2 L602.2,443.5 L601.2,442.4 L600.2,444.9 L599.2,445.3 L598.2,443.3 L597.3,444.5 L596.3,446.3 L595.3,443.9 L594.3,443.6 L593.3,444.3 L592.4,443.5 L591.4,443.8 L590.4,445.7 L589.4,445.4 L588.5,446.4 L587.5,446.9 L586.6,445.9 L585.6,446.8 L584.7,446.9 L583.8,446.9 L582.9,447.1 L582.0,448.5 L581.1,448.7 L580.2,449.6 L579.3,450.6 L578.4,451.1 L577.6,449.6 L576.6,450.3 L575.7,451.2 L574.8,451.9 L573.9,453.0 L572.9,451.5 L572.0,452.4 L571.0,453.5 L570.1,454.8 L569.1,455.2 L568.2,453.1 L567.2,454.3 L566.3,454.1 L565.4,456.1 L564.4,456.1 L563.5,455.7 L562.6,455.9 L561.7,457.2 L560.7,458.2 L559.8,457.0 L558.9,457.9 L558.0,458.8 L557.1,459.1 L556.2,459.8 L555.3,459.0 L554.4,459.8 L553.5,459.1 L552.6,461.2 L551.7,462.5 L550.8,460.6 L549.9,462.1 L549.1,463.8 L548.2,463.5 L547.4,462.7 L546.6,465.5 L545.7,464.3 L544.9,466.7 L544.1,466.1 L543.3,466.6 L542.5,467.7 L541.7,468.3 L540.9,469.3 L540.2,469.9 L539.4,470.2 L538.7,471.6 L538.0,472.0 L537.2,472.5 L536.5,473.1 L535.8,473.7 L535.1,474.4 L534.4,475.4 L533.8,476.1 L533.1,476.8 L532.5,477.8 L531.9,478.3 L531.4,479.3 L530.9,480.2 L530.5,480.8 L530.0,481.8 L529.6,482.8 L529.2,483.6 L528.8,484.6 L528.4,485.4 L528.1,486.5 L527.7,487.3 L527.3,488.3 L527.0,489.3 L526.7,490.2 L526.3,491.2 L526.0,492.1 L525.7,493.1 L525.3,494.0 L525.0,495.0 L524.7,495.9 L524.4,496.9 L524.1,497.8 L523.8,498.8 L523.6,499.8 L523.3,500.7 L523.1,501.7 L522.8,502.7 L522.6,503.6 L522.4,504.6 L522.1,505.6 L521.9,506.5 L521.7,507.5 L521.5,508.5 L521.3,509.5 L521.1,510.5 L520.9,511.4 L520.7,512.4 L520.5,513.4 L520.3,514.4 L520.1,515.4 L520.0,516.4 L519.8,517.3 L519.6,518.3 L519.5,519.3 L519.3,520.3 L519.2,521.3 L519.0,522.3 L518.9,523.3 L518.8,524.3 L518.6,525.3 L518.5,526.2 L518.4,527.2 L518.3,528.2 L518.2,529.2 L518.0,530.2 L517.9,531.2 L517.8,532.2 L517.7,533.2 L517.6,534.2 L517.5,535.2 L517.4,536.2 L517.2,537.2 L517.1,538.2 L517.0,539.2 L516.9,540.2 L516.7,541.2 L516.6,542.2 L516.5,543.1 L516.3,544.1 L516.2,545.1 L516.0,546.1 L515.9,547.1 L515.7,548.1 L515.6,549.1 L515.4,550.1 L515.3,551.1 L515.1,552.0 L515.0,553.0 L514.9,554.0 L514.8,555.0 L514.7,556.0 L514.6,557.0 L514.5,558.0 L514.4,559.0 L514.3,560.0 L514.3,561.0 L514.2,562.0 L514.1,563.0 L514.0,564.0 L513.9,565.0 L513.9,566.0 L513.8,567.0 L513.7,568.0 L513.6,569.0 L513.6,570.0 L513.5,571.0 L513.4,572.0 L513.4,573.0 L513.3,574.0 L513.2,575.0 L513.2,575.9 L513.1,576.9 L513.0,577.9 L513.0,578.9 L512.9,579.9 L512.8,580.9 L512.8,581.9 L512.7,582.9 L512.7,583.9 L512.6,584.9 L512.6,585.9 L512.5,586.9 L512.4,587.9 L512.4,588.9 L512.3,589.9 L512.3,590.9 L512.2,591.9 L512.2,592.9 L512.1,593.9 L512.1,594.9 L512.0,595.9 L512.0,596.9 L511.9,597.9 L511.9,598.9 L511.8,599.9 L511.8,600.9 L511.7,601.9 L511.7,602.9 L511.6,603.9 L511.6,604.9 L511.5,605.9 L511.5,606.9 L511.4,607.9 L511.4,608.9 L511.3,609.9 L511.3,610.9 L511.2,611.9 L511.2,612.9 L511.1,613.9 L511.1,614.9 L511.0,615.9 L511.0,616.9 L510.9,617.9 L510.9,618.9 L510.8,619.9 L510.8,620.9 L510.7,621.9 L510.7,622.9 L510.6,623.9 L510.6,624.9 L510.6,625.9 L510.5,626.9 L510.5,627.9 L510.4,628.9 L510.4,629.9 L510.3,630.9 L510.3,631.9 L510.3,632.9 L510.2,633.9 L510.2,634.9 L510.1,635.9 L510.1,636.9 L510.1,637.9 L510.0,638.9 L510.0,639.9 L509.9,640.9 L509.9,641.9 L509.9,642.9 L509.8,643.9 L509.8,644.9 L509.8,645.9 L509.7,646.9 L509.7,647.9 L509.6,648.9 L509.6,649.9 L509.6,650.9 L509.5,651.9 L509.5,652.9 L509.4,653.9 L509.4,654.9 L509.4,655.9 L509.3,656.9 L509.3,657.9 L509.2,658.9 L509.2,659.9 L509.1,660.9 L509.1,661.9 L509.0,662.9 L509.0,663.9 L509.0,664.9 L508.9,665.9 L508.9,666.9 L508.8,667.9 L508.8,668.9 L508.7,669.9 L508.7,670.9 L508.6,671.9 L508.5,672.9 L508.5,673.9 L508.4,674.9 L508.4,675.9 L508.3,676.9 L508.3,677.9 L508.2,678.9 L508.2,679.9 L508.1,680.9 L508.0,681.9 L508.0,682.9 L507.9,683.9 L507.9,684.9 L507.8,685.9 L507.7,686.9 L507.7,687.9 L507.6,688.9 L507.5,689.9 L507.5,690.9 L507.4,691.9 L507.4,692.9 L507.3,693.9 L507.2,694.9 L507.2,695.9 L507.1,696.9 L507.0,697.9 L507.0,698.9 L506.9,699.9 L506.8,700.9 L506.7,701.9 L506.7,702.9 L506.6,703.9 L506.5,704.8 L506.5,705.8 L506.4,706.8 L506.3,707.8 L506.2,708.8 L506.2,709.8 L506.1,710.8 L506.0,711.8 L505.9,712.8 L505.9,713.8 L505.8,714.8 L505.7,715.8 L505.6,716.8 L505.6,717.8 L505.5,718.8 L505.4,719.8 L505.3,720.8 L505.2,721.8 L505.2,722.8 L505.1,723.8 L505.0,724.8 L504.9,725.8 L504.8,726.8 L504.8,727.8 L504.7,728.8 L504.6,729.8 L504.5,730.8 L504.4,731.8 L504.3,732.8 L504.2,733.8 L504.1,734.8 L504.0,735.8 L504.0,736.8 L503.9,737.8 L503.8,738.8 L503.7,739.8 L503.6,740.7 L503.5,741.7 L503.4,742.7 L503.3,743.7 L503.2,744.7 L503.1,745.7 L503.0,746.7 L502.9,747.7 L502.7,748.7 L502.6,749.7 L502.5,750.7 L502.4,751.7 L502.3,752.7 L502.2,753.7 L502.1,754.7 L501.9,755.7 L501.8,756.7 L501.7,757.6 L501.5,758.6 L501.4,759.6 L501.3,760.6 L501.1,761.6 L501.0,762.6 L500.8,763.6 L500.7,764.6 L500.5,765.6 L500.4,766.6 L500.2,767.5 L500.1,768.5 L499.9,769.5 L499.7,770.5 L499.5,771.5 L499.3,772.4 L499.1,773.4 L498.9,774.4 L498.7,775.4 L498.5,776.4 L498.3,777.3 L498.1,778.3 L497.8,779.3 L497.6,780.3 L497.4,781.3 L497.1,782.2 L496.9,783.2 L496.6,784.1 L496.3,785.1 L496.1,786.1 L495.8,787.0 L495.5,788.0 L495.2,788.9 L494.9,789.9 L494.6,790.9 L494.3,791.8 L494.0,792.7 L493.7,793.7 L493.4,794.7 L493.0,795.7 L492.7,796.6 L492.4,797.4 L492.0,798.5 L491.7,799.3 L491.3,800.4 L491.0,801.2 L490.6,802.3 L490.3,803.1 L489.9,804.1 L489.6,805.0 L489.2,805.9 L488.8,806.9 L488.5,807.7 L488.1,808.8 L487.7,809.6 L487.3,810.5 L486.9,811.5 L486.5,812.4 L486.1,813.4 L485.8,814.2 L485.4,815.1 L485.0,816.0 L484.6,817.0 L484.2,818.0 L483.7,818.8 L483.3,819.7 L482.9,820.6 L482.5,821.6 L482.1,822.3 L481.6,823.4 L481.2,824.4 L480.8,825.1 L480.4,826.1 L479.9,826.9 L479.5,828.0 L479.1,828.9 L478.7,829.9 L478.3,830.6 L477.9,831.5 L477.5,832.5 L477.1,833.3 L476.7,834.3 L476.4,835.3 L476.0,836.2 L475.6,837.1 L475.2,838.0 L474.8,839.1 L474.4,839.9 L474.0,840.9 L473.6,841.6 L473.2,842.5 L472.8,843.5 L472.4,844.4 L471.9,845.2 L471.5,846.4 L471.1,847.2 L470.7,848.2 L470.2,849.1 L469.8,850.0 L469.3,850.8 L468.9,851.7 L468.4,852.4 L467.9,853.4 L467.4,854.6 L466.9,854.8 L466.3,855.8 L465.8,856.9 L465.2,858.0 L464.6,858.2 L464.0,859.2 L463.4,860.1 L462.7,861.6 L462.0,861.1 L461.3,862.0 L460.5,863.2 L459.7,862.9 L458.9,864.3 L458.1,864.9 L457.2,864.9 L456.3,866.0 L455.5,867.5 L454.6,866.8 L453.8,866.9 L452.9,867.1 L452.0,868.5 L451.1,869.7 L450.2,869.4 L449.3,869.9 L448.4,871.6 L447.5,869.7 L446.6,869.8 L445.7,871.5 L444.8,871.5 L443.9,872.6 L443.0,873.6 L442.1,873.3 L441.2,873.2 L440.3,874.2 L439.3,874.5 L438.4,874.2 L437.5,874.1 L436.5,875.7 L435.5,875.0 L434.6,874.2 L433.6,876.4 L432.6,875.1 L431.6,875.3 L430.7,876.9 L429.7,875.5 L428.7,876.3 L427.7,875.5 L426.7,875.0 L425.7,877.3 L424.7,878.8 L423.7,876.1 L422.7,878.6 L421.7,878.7 L420.7,879.5 L419.7,876.7 L418.7,877.4 L417.7,880.2 L416.7,878.5 L415.7,878.7 L414.8,879.7 L413.8,879.8 L412.8,878.8 L411.8,879.4 L410.8,880.6 L409.9,880.3 L408.9,879.3 L407.9,881.8 L406.9,881.5 L406.0,880.5 L405.0,880.5 L404.0,882.3 L403.0,879.3 L402.1,881.8 L401.1,881.3 L400.1,881.4 L399.1,883.4 L398.2,883.0 L397.2,885.0 L396.2,883.0 L395.2,883.8 L394.2,882.0 L393.3,884.9 L392.3,883.3 L391.3,884.3 L390.3,885.9 L389.3,885.7 L388.3,885.1 L387.3,886.1 L386.3,884.1 L385.4,883.6 L384.4,883.0 L383.4,885.6 L382.4,887.2 L381.4,884.7 L380.4,885.2 L379.4,885.0 L378.4,886.0 L377.4,883.3 L376.4,886.7 L375.4,886.9 L374.4,885.0 L373.4,884.7 L372.4,884.9 L371.4,886.6 L370.4,887.7 L369.4,884.9 L368.4,884.3 L367.4,886.4 L366.4,886.6 L365.4,887.3 L364.4,885.6 L363.4,887.5 L362.4,888.0 L361.4,884.9 L360.4,886.6 L359.4,887.8 L358.4,888.1 L357.4,886.5 L356.4,884.9 L355.4,886.3 L354.4,885.7 L353.4,886.9 L352.4,888.8 L351.4,886.7 L350.4,887.6 L349.4,886.1 L348.4,888.6 L347.4,886.7 L346.4,886.2 L345.4,889.8 L344.4,888.1 L343.4,888.7 L342.4,885.5 L341.4,889.6 L340.4,890.0 L339.4,887.8 L338.4,887.8 L337.4,887.6 L336.4,889.7 L335.4,886.6 L334.4,888.9 L333.4,890.6 L332.4,888.7 L331.4,890.8 L330.4,888.7 L329.4,888.3 L328.4,889.8 L327.4,888.7 L326.5,888.9 L325.5,888.2 L324.5,887.3 L323.5,888.6 L322.5,889.8 L321.5,890.3 L320.5,889.0 L319.5,889.4 L318.5,888.0 L317.5,888.9 L316.5,888.9 L315.5,888.8 L314.5,889.1 L313.5,889.5 L312.5,890.6 L311.5,890.0 L310.5,889.8 L309.5,887.7 L308.5,888.3 L307.5,889.4 L306.5,889.4 L305.5,890.2 L304.5,887.5 L303.5,889.9 L302.5,889.9 L301.5,889.3 L300.5,888.8 L299.5,890.1 L298.5,889.6 L297.5,890.5 L296.5,887.6 L295.5,888.9 L294.5,891.9 L293.5,890.3 L292.5,889.1 L291.5,889.6 L290.5,888.5 L289.5,891.9 L288.5,891.9 L287.5,891.3 L286.5,891.7 L285.5,890.9 L284.5,891.9 L283.5,891.2 L282.5,892.3 L281.5,890.7 L280.5,890.7 L279.5,890.3 L278.5,890.4 L277.5,889.1 L276.5,892.6 L275.5,892.8 L274.5,892.1 L273.5,892.5 L272.5,891.7 L271.5,892.1 L270.5,889.8 L269.5,891.4 L268.5,889.3 L267.5,890.7 L266.5,891.2 L265.5,891.1 L264.5,890.3 L263.5,893.1 L262.5,892.8 L261.5,890.9 L260.5,890.0 L259.5,890.9 L258.5,892.6 L257.5,889.3 L256.5,892.6 L255.5,891.6 L254.5,891.3 L253.5,893.1 L252.5,891.9 L251.5,891.5 L250.5,893.5 L249.5,890.2 L248.5,894.1 L247.5,891.3 L246.5,891.4 L245.5,894.2 L244.5,894.5 L243.5,893.8 L242.5,891.3 L241.5,890.0 L240.5,892.7 L239.5,892.5 L238.5,891.8 L237.5,892.3 L236.5,891.6 L235.5,893.4 L234.5,892.3 L233.5,892.3 L232.5,890.1 L231.5,892.9 L230.5,890.9 L229.5,893.5 L228.5,892.7 L227.5,890.3 L226.5,892.3 L225.5,891.4 L224.5,893.4 L223.5,893.3 L222.5,894.1 L221.5,892.0 L220.5,893.5 L219.5,891.4 L218.5,893.5 L217.5,892.9 L216.5,893.4 L215.5,893.1 L214.5,894.4 L213.5,892.8 L212.5,893.1 L211.5,895.1 L210.5,893.4 L209.5,893.0 L208.5,892.6 L207.5,893.8 L206.5,893.7 L205.5,894.5 L204.5,893.6 L203.5,894.7 L202.5,893.6 L201.5,895.9 L200.5,893.9 L199.5,894.9" stroke="#f00" stroke-width="2.9"/>
<path d="M199.5,893.2 L200.5,893.4 L201.5,893.3 L202.5,894.1 L203.5,896.5 L204.5,892.9 L205.5,895.9 L206.5,896.2 L207.5,894.3 L208.5,893.9 L209.5,895.3 L210.5,896.2 L211.5,897.0 L212.5,895.8 L213.5,896.7 L214.5,894.2 L215.5,893.6 L216.5,892.6 L217.5,893.2 L218.5,894.3 L219.5,895.0 L220.5,893.2 L221.5,895.8 L222.5,894.7 L223.5,894.1 L224.5,893.9 L225.5,897.1 L226.5,895.0 L227.5,893.7 L228.5,893.6 L229.5,896.9 L230.5,893.9 L231.5,896.0 L232.5,896.2 L233.5,892.2 L234.5,896.2 L235.5,894.3 L236.5,893.3 L237.5,893.8 L238.5,895.2 L239.5,895.0 L240.5,895.0 L241.5,893.7 L242.5,896.1 L243.5,896.4 L244.5,896.8 L245.5,895.7 L246.5,896.7 L247.5,896.7 L248.5,895.3 L249.5,895.5 L250.5,895.2 L251.5,895.0 L252.5,895.4 L253.5,892.3 L254.5,894.0 L255.5,895.0 L256.5,892.1 L257.5,892.6 L258.5,896.3 L259.5,893.1 L260.5,893.8 L261.5,894.8 L262.5,893.8 L263.5,893.4 L264.6,893.9 L265.6,893.9 L266.6,893.7 L267.6,894.5 L268.6,896.2 L269.6,894.7 L270.6,896.1 L271.6,895.0 L272.6,895.1 L273.6,894.9 L274.6,893.8 L275.6,894.6 L276.6,894.4 L277.6,892.7 L278.6,895.0 L279.6,894.7 L280.6,894.4 L281.6,893.3 L282.6,891.7 L283.6,895.9 L284.6,894.0 L285.6,891.7 L286.6,894.6 L287.6,893.0 L288.6,894.6 L289.6,893.7 L290.6,895.2 L291.6,894.1 L292.6,894.1 L293.6,894.0 L294.6,895.3 L295.6,892.2 L296.6,895.2 L297.6,894.6 L298.6,893.2 L299.6,893.8 L300.6,893.3 L301.6,893.9 L302.6,894.9 L303.6,893.0 L304.6,894.7 L305.6,895.0 L306.6,894.6 L307.6,895.6 L308.6,893.6 L309.6,894.7 L310.6,896.1 L311.6,893.8 L312.6,893.6 L313.6,893.7 L314.6,894.3 L315.6,892.8 L316.6,893.2 L317.6,891.4 L318.6,892.1 L319.6,892.1 L320.6,891.9 L321.6,892.6 L322.6,893.9 L323.6,892.7 L324.6,891.5 L325.6,893.5 L326.6,893.4 L327.6,891.6 L328.6,893.5 L329.6,892.0 L330.6,892.6 L331.6,892.5 L332.6,894.4 L333.6,892.4 L334.6,892.9 L335.6,893.3 L336.6,894.3 L337.6,894.5 L338.6,891.7 L339.6,894.3 L340.6,893.2 L341.6,894.2 L342.6,894.0 L343.6,892.1 L344.6,892.8 L345.6,892.3 L346.6,893.1 L347.6,894.7 L348.6,892.8 L349.6,891.9 L350.6,895.0 L351.6,891.6 L352.6,892.7 L353.6,892.6 L354.6,891.1 L355.6,893.5 L356.6,893.8 L357.6,892.4 L358.6,892.5 L359.6,892.2 L360.6,890.3 L361.6,892.6 L362.6,890.7 L363.6,891.0 L364.6,892.6 L365.6,893.2 L366.6,891.0 L367.6,893.5 L368.6,894.1 L369.6,892.2 L370.6,891.8 L371.6,892.1 L372.6,891.3 L373.6,890.6 L374.6,892.4 L375.6,892.4 L376.6,890.9 L377.6,890.9 L378.6,890.6 L379.6,890.3 L380.6,889.9 L381.6,889.2 L382.6,892.1 L383.6,890.5 L384.6,891.0 L385.6,893.1 L386.6,890.4 L387.6,891.6 L388.6,889.3 L389.6,890.1 L390.6,891.7 L391.6,890.5 L392.6,889.0 L393.6,888.9 L394.6,891.0 L395.6,889.5 L396.6,891.3 L397.6,890.8 L398.6,890.1 L399.6,890.3 L400.6,891.1 L401.6,890.2 L402.6,888.9 L403.6,890.4 L404.6,889.6 L405.6,889.6 L406.6,890.6 L407.6,890.1 L408.6,890.9 L409.6,889.3 L410.6,888.8 L411.6,888.9 L412.6,889.8 L413.6,888.3 L414.6,888.8 L415.6,888.2 L416.6,888.2 L417.6,888.8 L418.6,891.2 L419.6,888.5 L420.6,889.2 L421.6,888.9 L422.6,888.5 L423.6,888.8 L424.6,891.0 L425.6,888.3 L426.6,890.4 L427.6,889.3 L428.6,887.4 L429.6,887.6 L430.6,887.8 L431.6,887.0 L432.6,889.5 L433.6,888.6 L434.6,888.7 L435.6,886.9 L436.6,888.6 L437.6,887.4 L438.5,890.2 L439.5,887.7 L440.5,888.1 L441.5,888.2 L442.5,887.0 L443.5,887.0 L444.5,886.8 L445.5,888.1 L446.5,886.2 L447.5,886.5 L448.5,886.9 L449.4,886.0 L450.4,884.7 L451.4,884.9 L452.4,885.5 L453.4,884.7 L454.4,886.6 L455.4,885.4 L456.3,885.2 L457.3,884.0 L458.3,885.5 L459.3,884.4 L460.3,883.6 L461.3,883.7 L462.2,886.4 L463.2,883.3 L464.2,882.8 L465.2,885.0 L466.2,884.4 L467.2,883.1 L468.2,884.7 L469.2,881.4 L470.2,882.3 L471.1,880.9 L472.1,884.1 L473.1,882.4 L474.1,884.4 L475.1,882.6 L476.1,882.4 L477.1,880.4 L478.1,880.2 L479.1,880.9 L480.1,882.3 L481.0,880.0 L482.0,879.0 L483.0,881.9 L484.0,881.8 L485.0,879.7 L486.0,881.2 L487.0,881.8 L488.0,881.8 L489.0,878.5 L490.0,880.1 L490.9,879.0 L491.9,880.9 L492.9,879.7 L493.9,878.0 L494.9,879.3 L495.9,879.7 L496.9,877.0 L497.9,877.0 L498.8,877.6 L499.8,877.8 L500.8,877.4 L501.8,875.9 L502.8,876.0 L503.8,877.6 L504.8,877.9 L505.8,876.3 L506.7,877.2 L507.7,879.0 L508.7,876.5 L509.7,876.1 L510.7,875.7 L511.7,876.9 L512.7,876.5 L513.6,876.3 L514.6,875.4 L515.6,876.1 L516.6,876.0 L517.6,875.2 L518.6,876.5 L519.6,873.2 L520.5,875.6 L521.5,874.5 L522.5,875.3 L523.5,876.3 L524.5,873.9 L525.4,873.5 L526.4,873.3 L527.4,874.5 L528.3,874.5 L529.3,872.7 L530.3,872.9 L531.2,873.8 L532.1,872.2 L533.1,869.9 L534.0,870.1 L534.9,870.1 L535.9,870.6 L536.8,869.3 L537.7,870.6 L538.6,868.6 L539.5,869.8 L540.4,867.5 L541.3,868.6 L542.2,867.2 L543.0,867.4 L543.8,867.0 L544.6,866.2 L545.3,865.1 L546.1,863.6 L546.8,862.9 L547.5,861.8 L548.2,862.4 L548.9,861.5 L549.5,860.7 L550.2,859.2 L550.8,859.4 L551.4,857.8 L552.1,857.5 L552.7,855.9 L553.4,855.5 L554.1,855.5 L554.8,854.7 L555.4,853.2 L556.1,852.8 L556.8,852.4 L557.4,850.8 L558.0,850.7 L558.6,849.3 L559.1,849.0 L559.7,848.0 L560.2,847.4 L560.8,846.2 L561.3,845.4 L561.8,844.5 L562.3,843.6 L562.8,842.8 L563.3,841.9 L563.8,841.0 L564.3,840.3 L564.8,839.3 L565.2,838.6 L565.7,837.7 L566.1,836.8 L566.6,835.7 L567.0,835.0 L567.5,834.1 L567.9,833.2 L568.3,832.3 L568.7,831.4 L569.1,830.3 L569.5,829.5 L569.9,828.5 L570.2,827.6 L570.6,826.6 L570.9,825.7 L571.3,824.7 L571.6,823.9 L571.9,822.9 L572.2,821.9 L572.5,820.9 L572.8,820.0 L573.1,819.0 L573.4,818.0 L573.6,817.1 L573.9,816.1 L574.1,815.2 L574.4,814.2 L574.6,813.2 L574.9,812.2 L575.1,811.3 L575.4,810.3 L575.6,809.3 L575.8,808.4 L576.0,807.4 L576.3,806.4 L576.5,805.5 L576.7,804.4 L576.9,803.5 L577.1,802.5 L577.3,801.5 L577.5,800.6 L577.7,799.6 L577.9,798.6 L578.1,797.6 L578.3,796.6 L578.5,795.6 L578.7,794.6 L578.9,793.7 L579.1,792.7 L579.2,791.7 L579.4,790.7 L579.6,789.7 L579.8,788.7 L579.9,787.7 L580.1,786.8 L580.2,785.8 L580.3,784.8 L580.5,783.8 L580.6,782.8 L580.7,781.8 L580.8,780.8 L580.9,779.8 L581.0,778.8 L581.1,777.8 L581.2,776.8 L581.3,775.8 L581.3,774.8 L581.4,773.8 L581.5,772.8 L581.6,771.8 L581.7,770.8 L581.8,769.8 L581.9,768.8 L582.0,767.8 L582.1,766.8 L582.2,765.9 L582.3,764.9 L582.5,763.9 L582.6,762.9 L582.7,761.9 L582.8,760.9 L582.9,759.9 L583.0,758.9 L583.1,757.9 L583.3,756.9 L583.4,755.9 L583.5,754.9 L583.6,753.9 L583.7,752.9 L583.8,751.9 L583.9,750.9 L584.1,749.9 L584.2,748.9 L584.3,747.9 L584.4,746.9 L584.5,746.0 L584.6,745.0 L584.7,744.0 L584.8,743.0 L584.9,742.0 L585.0,741.0 L585.0,740.0 L585.1,739.0 L585.2,738.0 L585.3,737.0 L585.3,736.0 L585.4,735.0 L585.5,734.0 L585.5,733.0 L585.6,732.0 L585.6,731.0 L585.7,730.0 L585.7,729.0 L585.8,728.0 L585.8,727.0 L585.9,726.0 L585.9,725.0 L586.0,724.0 L586.0,723.0 L586.0,722.0 L586.1,721.0 L586.1,720.0 L586.2,719.0 L586.2,718.0 L586.2,717.0 L586.3,716.0 L586.3,715.0 L586.3,714.0 L586.4,713.0 L586.4,712.0 L586.4,711.0 L586.5,710.0 L586.5,709.0 L586.5,708.0 L586.6,707.0 L586.6,706.0 L586.6,705.0 L586.7,704.0 L586.7,703.0 L586.7,702.0 L586.8,701.0 L586.8,700.0 L586.8,699.0 L586.9,698.0 L586.9,697.0 L586.9,696.0 L587.0,695.0 L587.0,694.0 L587.0,693.0 L587.1,692.0 L587.1,691.0 L587.1,690.0 L587.2,689.0 L587.2,688.0 L587.2,687.0 L587.3,686.0 L587.3,685.0 L587.3,684.0 L587.3,683.0 L587.4,682.0 L587.4,681.0 L587.4,680.0 L587.5,679.0 L587.5,678.0 L587.5,677.0 L587.6,676.0 L587.6,675.0 L587.6,674.0 L587.7,673.0 L587.7,672.0 L587.7,671.0 L587.7,670.0 L587.8,669.0 L587.8,668.0 L587.8,667.0 L587.9,666.0 L587.9,665.0 L587.9,664.0 L587.9,663.0 L588.0,662.0 L588.0,661.0 L588.0,660.0 L588.0,659.0 L588.1,658.0 L588.1,657.0 L588.1,656.0 L588.1,655.0 L588.2,654.0 L588.2,653.0 L588.2,652.0 L588.3,651.0 L588.3,650.0 L588.3,649.0 L588.3,648.0 L588.4,647.0 L588.4,646.0 L588.4,645.0 L588.5,644.0 L588.5,643.0 L588.5,642.0 L588.6,641.0 L588.6,640.0 L588.7,639.0 L588.7,638.0 L588.8,637.0 L588.8,636.0 L588.9,635.0 L588.9,634.0 L589.0,633.0 L589.0,632.0 L589.1,631.0 L589.2,630.0 L589.2,629.0 L589.3,628.0 L589.4,627.0 L589.4,626.0 L589.5,625.0 L589.6,624.0 L589.7,623.0 L589.7,622.0 L589.8,621.0 L589.9,620.0 L590.0,619.0 L590.1,618.0 L590.1,617.0 L590.2,616.0 L590.3,615.0 L590.4,614.0 L590.4,613.0 L590.5,612.0 L590.6,611.0 L590.7,610.0 L590.8,609.0 L590.8,608.0 L590.9,607.0 L591.0,606.0 L591.1,605.0 L591.1,604.0 L591.2,603.0 L591.3,602.0 L591.3,601.0 L591.4,600.0 L591.5,599.0 L591.5,598.0 L591.6,597.0 L591.6,596.0 L591.7,595.0 L591.8,594.0 L591.8,593.0 L591.9,592.0 L591.9,591.0 L592.0,590.0 L592.0,589.0 L592.1,588.0 L592.2,587.0 L592.2,586.0 L592.3,585.0 L592.3,584.0 L592.4,583.0 L592.5,582.0 L592.6,581.1 L592.6,580.1 L592.7,579.1 L592.8,578.1 L592.9,577.1 L592.9,576.1 L593.0,575.1 L593.1,574.1 L593.2,573.1 L593.3,572.1 L593.4,571.1 L593.5,570.1 L593.6,569.1 L593.7,568.1 L593.8,567.1 L593.9,566.1 L594.0,565.1 L594.1,564.1 L594.2,563.1 L594.3,562.1 L594.4,561.1 L594.5,560.1 L594.6,559.1 L594.7,558.1 L594.8,557.1 L594.9,556.1 L595.0,555.1 L595.1,554.1 L595.2,553.2 L595.3,552.2 L595.5,551.2 L595.6,550.2 L595.7,549.2 L595.8,548.2 L596.0,547.2 L596.1,546.2 L596.3,545.2 L596.4,544.2 L596.6,543.2 L596.8,542.3 L596.9,541.3 L597.1,540.3 L597.3,539.3 L597.5,538.3 L597.7,537.3 L597.9,536.4 L598.1,535.4 L598.3,534.4 L598.5,533.4 L598.7,532.4 L598.9,531.5 L599.1,530.5 L599.3,529.5 L599.5,528.5 L599.7,527.5 L599.9,526.5 L600.2,525.5 L600.4,524.6 L600.7,523.7 L600.9,522.7 L601.2,521.7 L601.5,520.8 L601.8,519.8 L602.1,518.9 L602.5,517.9 L602.8,517.0 L603.1,516.0 L603.5,515.1 L603.8,514.1 L604.2,513.2 L604.6,512.4 L605.0,511.4 L605.4,510.4 L605.8,509.5 L606.2,508.7 L606.6,507.7 L607.0,506.6 L607.4,505.9 L607.9,505.1 L608.3,503.9 L608.7,503.2 L609.1,502.2 L609.5,501.4 L609.9,500.4 L610.4,499.5 L610.8,498.5 L611.2,497.7 L611.6,496.8 L612.0,495.9 L612.4,494.9 L612.8,494.0 L613.3,493.3 L613.7,492.2 L614.1,491.3 L614.5,490.3 L614.9,489.5 L615.3,488.6 L615.8,487.8 L616.2,486.8 L616.6,485.9 L617.0,485.0 L617.4,484.1 L617.9,483.1 L618.3,482.2 L618.7,481.4 L619.0,480.3 L619.4,479.5 L619.8,478.5 L620.1,477.5 L620.4,476.7 L620.7,475.6 L621.0,474.7 L621.4,473.8 L621.7,472.8 L622.0,471.8 L622.4,470.8 L622.7,469.8 L623.2,469.0 L623.6,468.1 L624.1,467.5 L624.6,466.6 L625.2,465.4 L625.7,465.0 L626.3,463.9 L627.0,463.8 L627.6,462.9 L628.2,461.9 L628.9,460.7 L629.5,460.7 L630.2,459.6 L630.8,459.0 L631.5,458.0 L632.2,456.9 L633.0,456.6 L633.7,455.1 L634.5,455.4 L635.3,454.4 L636.1,452.5 L637.0,453.8 L637.9,452.8 L638.8,452.1 L639.8,452.1 L640.7,452.7 L641.7,450.4 L642.6,450.2 L643.6,452.1 L644.6,451.2 L645.6,448.8 L646.5,450.7 L647.5,448.4 L648.5,450.8 L649.5,450.2 L650.5,450.3 L651.5,447.9 L652.5,448.5 L653.5,450.2 L654.5,447.5 L655.4,449.5 L656.4,448.5 L657.4,448.9 L658.4,447.7 L659.4,449.3 L660.4,448.9 L661.4,449.3 L662.4,450.6 L663.4,447.8 L664.4,448.0 L665.4,446.5 L666.3,449.7 L667.3,447.1 L668.3,448.3 L669.3,445.9 L670.3,446.9 L671.3,447.7 L672.3,447.4 L673.3,446.4 L674.3,447.6 L675.3,446.6 L676.3,447.7 L677.3,446.0 L678.3,446.9 L679.3,445.4 L680.3,447.4 L681.2,445.8 L682.2,445.7 L683.2,444.8 L684.2,446.5 L685.2,445.3 L686.2,444.7 L687.2,446.3 L688.2,443.6 L689.2,445.5 L690.2,446.0 L691.1,442.1 L692.1,444.9 L693.1,444.4 L694.1,443.9 L695.1,443.9 L696.1,442.0 L697.1,443.9 L698.1,443.5 L699.1,441.3 L700.1,442.9 L701.1,441.5 L702.1,442.9 L703.0,441.7 L704.0,442.7 L705.0,440.7 L706.0,441.7 L707.0,441.7 L708.0,441.8 L709.0,443.3 L710.0,444.1 L711.0,440.1 L712.0,442.6 L713.0,441.3 L714.0,441.2 L715.0,441.0 L716.0,441.1 L717.0,441.1 L718.0,442.0 L719.0,442.5 L720.0,441.3 L721.0,440.8 L722.0,441.3 L723.0,441.0 L724.0,442.7 L725.0,439.4 L726.0,438.7 L727.0,440.1 L728.0,440.9 L729.0,440.1 L730.0,440.6 L731.0,438.0 L732.0,439.3 L733.0,439.3 L734.0,438.3 L735.0,439.0 L736.0,439.3 L737.0,440.0 L738.0,438.5 L739.0,437.5 L740.0,439.7 L741.0,441.5 L742.0,439.4 L743.0,439.4 L744.0,438.1 L745.0,439.4 L746.0,441.1 L746.9,437.2 L747.9,440.5 L748.9,437.1 L749.9,440.9 L750.9,440.1 L751.9,438.8 L752.9,439.4 L753.9,441.0 L754.9,437.7 L755.9,440.3 L756.9,439.6 L758.0,438.8 L759.0,440.5 L760.0,436.8 L761.0,438.5 L762.0,437.2 L763.0,438.4 L764.0,439.0 L765.0,436.4 L766.0,438.7 L767.0,438.7 L768.0,437.6 L769.0,438.3 L770.0,439.7 L771.0,438.7 L772.0,440.2 L773.0,437.1 L774.0,436.9 L775.0,439.7 L776.0,436.7 L777.0,439.7 L778.0,438.3 L779.0,439.2 L780.0,437.9 L781.0,439.5 L782.0,439.8 L783.0,439.6 L784.0,438.8 L785.0,436.5 L786.0,439.2 L787.0,438.3 L788.0,439.7 L789.0,436.3 L790.0,438.6 L791.0,437.5 L792.0,437.9 L793.0,438.9 L794.0,438.9 L795.0,439.6 L796.0,438.4 L797.0,438.5 L798.0,438.2 L799.0,436.4 L800.0,439.0 L801.0,436.7 L802.0,437.1 L803.0,438.1 L804.0,436.8 L805.0,437.1 L806.0,435.3 L807.0,436.6 L808.0,436.4 L809.0,436.9 L810.0,438.3 L811.0,437.4 L812.0,437.4 L813.0,437.7 L814.0,438.8 L815.0,438.9 L816.0,438.1 L817.0,437.3 L818.0,438.7 L819.0,437.2 L820.0,437.3 L821.0,438.0 L822.0,437.0 L823.0,436.3 L824.0,436.1 L825.0,437.3 L826.0,437.8 L827.0,438.2 L828.0,436.6 L829.0,437.8 L830.0,437.5 L831.0,437.1 L832.0,439.9" stroke="#f00" stroke-width="2.9"/>
<path d="M832.0,433.9 L831.0,434.9 L830.0,435.4 L829.0,433.0 L828.0,435.5 L827.0,434.7 L826.0,435.6 L825.0,434.9 L824.0,436.2 L823.0,433.3 L822.0,437.3 L821.0,436.5 L820.0,433.8 L819.0,435.6 L818.0,435.3 L817.0,432.2 L816.0,435.7 L815.0,434.0 L814.0,434.3 L813.0,433.8 L812.0,434.1 L811.0,434.8 L810.0,434.8 L809.0,432.5 L808.0,434.4 L807.0,432.8 L806.0,433.0 L805.0,434.4 L804.0,436.1 L803.0,435.8 L802.0,434.0 L801.0,434.0 L800.0,433.8 L799.0,435.2 L798.0,436.3 L797.0,435.0 L796.0,435.9 L795.0,435.5 L794.0,437.2 L793.0,432.3 L792.0,432.3 L791.0,434.7 L790.0,436.0 L789.0,434.5 L788.0,435.8 L787.0,433.4 L786.0,433.3 L785.0,434.0 L784.0,436.2 L783.0,435.9 L782.0,433.9 L781.0,435.1 L780.0,434.0 L779.0,434.9 L778.0,433.2 L777.0,434.8 L775.9,433.7 L774.9,434.7 L773.9,433.9 L772.9,433.7 L771.9,435.2 L770.9,434.5 L769.9,435.0 L768.9,434.4 L767.9,435.9 L766.9,433.9 L765.9,436.3 L764.9,437.0 L763.9,434.7 L762.9,437.5 L761.9,437.7 L760.9,435.6 L759.9,432.9 L758.9,432.5 L757.9,434.6 L756.9,437.4 L755.9,435.7 L754.9,435.9 L753.9,434.4 L752.9,433.7 L751.9,435.3 L750.9,433.3 L749.9,434.7 L748.9,435.8 L747.9,435.0 L746.9,435.8 L745.9,434.4 L744.9,435.9 L743.9,435.7 L742.9,432.8 L741.9,433.8 L740.9,434.3 L739.9,436.3 L738.9,435.8 L737.9,435.6 L736.9,435.5 L735.9,436.2 L734.9,436.8 L733.9,434.8 L732.9,433.3 L731.9,436.5 L730.9,435.2 L729.9,435.6 L728.9,435.2 L727.9,433.8 L726.9,433.4 L725.9,437.1 L724.9,437.2 L723.9,437.2 L722.9,436.1 L721.9,436.0 L720.9,435.0 L719.9,435.8 L718.9,435.2 L717.9,435.0 L716.9,436.3 L715.9,438.5 L714.9,433.4 L713.9,437.1 L712.9,437.3 L711.9,434.6 L710.9,436.9 L709.9,436.7 L708.9,436.0 L707.9,435.9 L706.9,434.6 L705.9,439.1 L704.9,439.5 L703.9,439.1 L702.9,436.4 L701.9,437.2 L700.9,437.3 L699.9,435.5 L698.9,436.3 L697.9,437.4 L696.9,436.1 L695.9,434.3 L694.9,435.0 L693.9,437.3 L692.9,436.4 L691.9,436.5 L690.9,438.9 L689.9,437.1 L688.9,436.0 L687.9,437.1 L686.9,440.0 L685.9,435.6 L684.9,440.0 L683.9,439.5 L682.9,437.3 L681.9,437.1 L680.9,439.7 L679.9,438.0 L678.9,437.0 L677.9,440.3 L676.9,438.1 L675.9,438.4 L674.9,438.0 L673.9,437.6 L672.9,438.1 L671.9,437.6 L670.9,438.9 L669.9,439.7 L668.9,439.9 L667.9,440.1 L666.9,440.6 L665.9,439.6 L664.9,437.7 L663.9,439.9 L662.9,436.3 L661.9,437.6 L660.9,439.1 L659.9,436.3 L658.9,441.0 L657.9,437.5 L656.9,436.7 L655.9,437.8 L654.9,437.9 L653.9,439.0 L652.9,438.8 L651.9,440.7 L650.9,438.9 L649.9,439.5 L648.9,437.9 L647.9,440.0 L646.9,438.2 L645.9,436.6 L644.9,441.2 L643.9,437.9 L642.9,437.9 L641.9,438.4 L640.9,440.7 L639.9,437.7 L638.9,439.3 L638.0,440.9 L637.0,442.9 L636.0,440.0 L635.0,440.6 L634.0,439.4 L633.0,443.5 L632.0,440.7 L631.0,441.0 L630.0,441.3 L629.0,440.0 L628.0,441.4 L627.0,439.8 L626.0,443.7 L625.0,441.6 L624.1,441.8 L623.1,443.9 L622.1,440.6 L621.1,444.5 L620.1,444.9 L619.1,441.6 L618.1,443.8 L617.1,442.8 L616.1,444.3 L615.1,443.4 L614.1,442.3 L613.1,444.5 L612.1,443.5 L611.1,444.1 L610.1,445.3 L609.1,445.8 L608.2,445.2 L607.2,442.6 L606.2,445.8 L605.2,444.6 L604.3,446.7 L603.3,445.1 L602.3,447.3 L601.4,446.5 L600.5,446.1 L599.5,446.8 L598.6,444.6 L597.6,447.8 L596.7,447.5 L595.7,446.2 L594.8,448.4 L593.8,448.6 L592.9,448.9 L591.9,448.7 L591.0,450.2 L590.0,450.5 L589.1,450.1 L588.1,450.3 L587.2,450.0 L586.3,450.2 L585.3,452.0 L584.4,451.0 L583.4,450.2 L582.5,452.6 L581.5,454.0 L580.5,452.6 L579.6,454.3 L578.6,454.2 L577.7,452.7 L576.8,454.6 L575.9,454.5 L574.9,455.8 L574.0,453.4 L573.1,456.7 L572.2,457.0 L571.3,455.6 L570.4,458.1 L569.5,457.3 L568.6,458.1 L567.7,459.2 L566.8,460.2 L565.9,459.5 L565.1,460.5 L564.2,460.8 L563.3,460.1 L562.5,463.0 L561.6,462.7 L560.7,462.7 L559.9,464.1 L559.0,464.1 L558.2,463.7 L557.3,465.6 L556.5,465.3 L555.6,466.4 L554.8,467.2 L553.9,467.6 L553.1,469.0 L552.3,468.2 L551.5,468.4 L550.7,468.6 L549.9,469.3 L549.1,470.8 L548.3,471.2 L547.6,471.0 L546.8,471.7 L546.0,472.5 L545.2,474.4 L544.4,473.5 L543.6,475.0 L542.9,474.5 L542.1,476.0 L541.4,477.6 L540.7,477.0 L540.0,478.8 L539.3,478.3 L538.7,479.9 L538.1,480.3 L537.6,481.4 L537.0,482.2 L536.6,483.2 L536.1,484.0 L535.6,484.8 L535.2,485.7 L534.8,486.7 L534.4,487.5 L534.0,488.5 L533.7,489.5 L533.3,490.5 L533.0,491.5 L532.6,492.3 L532.3,493.4 L532.0,494.2 L531.7,495.1 L531.3,496.1 L531.0,497.1 L530.8,498.1 L530.5,499.0 L530.2,499.9 L529.9,500.9 L529.6,501.9 L529.4,502.8 L529.1,503.8 L528.9,504.8 L528.6,505.8 L528.4,506.7 L528.2,507.7 L527.9,508.7 L527.7,509.6 L527.5,510.6 L527.3,511.6 L527.1,512.6 L526.9,513.6 L526.7,514.6 L526.5,515.5 L526.3,516.5 L526.1,517.5 L525.9,518.5 L525.7,519.5 L525.5,520.5 L525.3,521.4 L525.2,522.4 L525.0,523.4 L524.8,524.4 L524.6,525.4 L524.5,526.4 L524.3,527.3 L524.2,528.3 L524.0,529.3 L523.8,530.3 L523.7,531.3 L523.5,532.3 L523.4,533.3 L523.2,534.3 L523.1,535.3 L522.9,536.3 L522.8,537.2 L522.6,538.2 L522.4,539.2 L522.3,540.2 L522.1,541.2 L521.9,542.2 L521.7,543.2 L521.5,544.1 L521.3,545.1 L521.2,546.1 L521.0,547.1 L520.8,548.1 L520.6,549.1 L520.4,550.0 L520.2,551.0 L520.1,552.0 L519.9,553.0 L519.8,554.0 L519.6,555.0 L519.5,556.0 L519.4,557.0 L519.3,558.0 L519.2,558.9 L519.1,559.9 L519.0,560.9 L518.9,561.9 L518.8,562.9 L518.7,563.9 L518.6,564.9 L518.5,565.9 L518.4,566.9 L518.3,567.9 L518.2,568.9 L518.2,569.9 L518.1,570.9 L518.0,571.9 L517.9,572.9 L517.8,573.9 L517.8,574.9 L517.7,575.9 L517.6,576.9 L517.5,577.9 L517.5,578.9 L517.4,579.9 L517.3,580.9 L517.3,581.9 L517.2,582.9 L517.1,583.9 L517.1,584.9 L517.0,585.9 L516.9,586.9 L516.9,587.9 L516.8,588.9 L516.8,589.9 L516.7,590.9 L516.6,591.9 L516.6,592.9 L516.5,593.9 L516.5,594.9 L516.4,595.9 L516.3,596.9 L516.3,597.9 L516.2,598.9 L516.2,599.9 L516.1,600.9 L516.0,601.9 L516.0,602.9 L515.9,603.9 L515.9,604.9 L515.8,605.9 L515.8,606.9 L515.7,607.9 L515.6,608.9 L515.6,609.9 L515.5,610.9 L515.5,611.9 L515.4,612.9 L515.4,613.9 L515.3,614.9 L515.2,615.9 L515.2,616.9 L515.1,617.9 L515.1,618.9 L515.0,619.9 L514.9,620.9 L514.9,621.9 L514.8,622.9 L514.8,623.9 L514.7,624.9 L514.6,625.9 L514.6,626.9 L514.5,627.9 L514.5,628.9 L514.4,629.9 L514.4,630.9 L514.3,631.9 L514.3,632.9 L514.2,633.9 L514.2,634.9 L514.1,635.9 L514.1,636.9 L514.0,637.9 L513.9,638.9 L513.9,639.9 L513.8,640.9 L513.8,641.9 L513.7,642.9 L513.7,643.9 L513.6,644.9 L513.6,645.9 L513.5,646.9 L513.5,647.9 L513.4,648.9 L513.4,649.9 L513.3,650.9 L513.3,651.9 L513.2,652.9 L513.2,653.9 L513.1,654.9 L513.1,655.9 L513.0,656.9 L513.0,657.9 L512.9,658.9 L512.9,659.9 L512.8,660.9 L512.8,661.8 L512.7,662.8 L512.6,663.8 L512.6,664.8 L512.5,665.8 L512.5,666.8 L512.4,667.8 L512.4,668.8 L512.3,669.8 L512.3,670.8 L512.2,671.8 L512.1,672.8 L512.1,673.8 L512.0,674.8 L512.0,675.8 L511.9,676.8 L511.9,677.8 L511.8,678.8 L511.7,679.8 L511.7,680.8 L511.6,681.8 L511.6,682.8 L511.5,683.8 L511.5,684.8 L511.4,685.8 L511.3,686.8 L511.3,687.8 L511.2,688.8 L511.2,689.8 L511.1,690.8 L511.1,691.8 L511.0,692.8 L510.9,693.8 L510.9,694.8 L510.8,695.8 L510.7,696.8 L510.7,697.8 L510.6,698.8 L510.6,699.8 L510.5,700.8 L510.4,701.8 L510.4,702.8 L510.3,703.8 L510.2,704.8 L510.2,705.8 L510.1,706.8 L510.0,707.8 L509.9,708.8 L509.9,709.8 L509.8,710.8 L509.7,711.8 L509.6,712.8 L509.6,713.8 L509.5,714.8 L509.4,715.8 L509.3,716.8 L509.3,717.8 L509.2,718.8 L509.1,719.8 L509.0,720.8 L508.9,721.8 L508.9,722.8 L508.8,723.8 L508.7,724.8 L508.6,725.8 L508.5,726.8 L508.4,727.8 L508.3,728.8 L508.2,729.8 L508.2,730.8 L508.1,731.8 L508.0,732.8 L507.9,733.7 L507.8,734.7 L507.7,735.7 L507.6,736.7 L507.5,737.7 L507.4,738.7 L507.3,739.7 L507.2,740.7 L507.1,741.7 L507.0,742.7 L506.9,743.7 L506.8,744.7 L506.7,745.7 L506.6,746.7 L506.5,747.7 L506.3,748.7 L506.2,749.7 L506.1,750.7 L506.0,751.7 L505.9,752.7 L505.8,753.7 L505.6,754.6 L505.5,755.6 L505.4,756.6 L505.3,757.6 L505.1,758.6 L505.0,759.6 L504.8,760.6 L504.7,761.6 L504.6,762.6 L504.4,763.6 L504.3,764.6 L504.1,765.5 L504.0,766.5 L503.8,767.5 L503.6,768.5 L503.5,769.5 L503.3,770.5 L503.2,771.5 L503.0,772.5 L502.8,773.5 L502.6,774.4 L502.5,775.4 L502.3,776.4 L502.1,777.4 L501.9,778.4 L501.7,779.4 L501.5,780.4 L501.3,781.3 L501.1,782.3 L500.9,783.3 L500.7,784.3 L500.4,785.2 L500.2,786.2 L499.9,787.1 L499.6,788.1 L499.3,789.1 L499.0,790.0 L498.7,791.0 L498.4,791.8 L498.1,792.8 L497.7,793.8 L497.4,794.7 L497.1,795.6 L496.7,796.8 L496.4,797.6 L496.0,798.6 L495.7,799.5 L495.3,800.3 L495.0,801.3 L494.6,802.2 L494.3,803.2 L493.9,804.0 L493.6,805.0 L493.2,806.1 L492.8,807.0 L492.5,807.8 L492.1,808.7 L491.7,809.8 L491.3,810.7 L491.0,811.5 L490.6,812.5 L490.2,813.4 L489.8,814.3 L489.4,815.2 L489.0,816.0 L488.6,817.1 L488.2,818.0 L487.8,819.1 L487.4,820.0 L487.0,820.7 L486.5,821.8 L486.1,822.5 L485.7,823.6 L485.3,824.3 L484.8,825.2 L484.4,826.1 L484.0,827.1 L483.6,828.2 L483.2,828.9 L482.8,829.9 L482.4,830.7 L482.0,831.7 L481.6,832.7 L481.2,833.6 L480.8,834.6 L480.4,835.4 L480.0,836.4 L479.6,837.4 L479.2,838.2 L478.8,839.0 L478.5,840.1 L478.1,841.0 L477.7,841.8 L477.2,842.7 L476.8,843.6 L476.4,844.7 L476.0,845.5 L475.6,846.5 L475.1,847.5 L474.7,848.4 L474.3,849.1 L473.8,849.9 L473.4,851.1 L472.9,851.7 L472.4,852.5 L471.9,853.5 L471.4,854.4 L470.9,855.2 L470.3,856.1 L469.8,856.4 L469.2,857.6 L468.6,858.6 L468.0,859.6 L467.4,860.2 L466.7,860.7 L466.0,862.4 L465.3,862.8 L464.6,863.2 L463.9,863.7 L463.1,864.5 L462.3,864.2 L461.5,864.6 L460.7,866.1 L459.8,865.0 L459.0,867.5 L458.1,867.0 L457.2,868.5 L456.3,868.4 L455.4,867.9 L454.5,868.5 L453.6,869.3 L452.7,871.6 L451.7,872.2 L450.8,870.9 L449.9,871.7 L449.0,871.1 L448.1,874.0 L447.2,873.1 L446.2,872.5 L445.3,872.2 L444.4,874.7 L443.5,876.6 L442.5,874.8 L441.6,873.8 L440.6,874.0 L439.7,874.6 L438.7,873.1 L437.8,877.0 L436.8,875.2 L435.8,873.7 L434.8,873.8 L433.9,877.0 L432.9,876.9 L431.9,878.9 L430.9,878.6 L429.9,876.9 L428.9,875.3 L427.9,878.1 L426.9,877.1 L425.9,878.2 L424.9,876.0 L423.9,878.0 L422.9,878.1 L421.9,876.9 L420.9,876.4 L419.9,876.3 L419.0,879.1 L418.0,880.8 L417.0,879.1 L416.0,876.8 L415.0,879.5 L414.0,877.5 L413.0,880.3 L412.0,882.5 L411.1,880.9 L410.1,878.0 L409.1,882.3 L408.1,881.5 L407.1,883.8 L406.2,882.2 L405.2,882.8 L404.2,879.6 L403.2,884.2 L402.2,880.7 L401.2,880.1 L400.3,883.6 L399.3,884.0 L398.3,885.0 L397.3,884.7 L396.3,883.9 L395.3,884.1 L394.4,884.9 L393.4,884.3 L392.4,884.7 L391.4,881.6 L390.4,884.3 L389.4,884.0 L388.4,885.4 L387.4,883.6 L386.5,886.3 L385.5,886.2 L384.5,883.5 L383.5,885.3 L382.5,886.2 L381.5,884.0 L380.5,882.9 L379.5,885.2 L378.5,885.9 L377.5,885.7 L376.5,887.3 L375.5,886.3 L374.5,888.3 L373.5,885.2 L372.5,888.5 L371.5,885.7 L370.5,886.7 L369.5,883.4 L368.5,885.1 L367.5,888.1 L366.5,886.6 L365.5,886.7 L364.5,884.9 L363.5,887.9 L362.5,885.3 L361.5,889.0 L360.5,887.9 L359.5,886.4 L358.5,886.2 L357.5,886.6 L356.5,887.9 L355.5,887.7 L354.5,885.1 L353.5,888.0 L352.5,886.0 L351.5,890.3 L350.5,884.8 L349.5,889.0 L348.5,885.8 L347.5,888.1 L346.5,889.4 L345.5,888.5 L344.5,886.2 L343.5,885.7 L342.5,890.1 L341.5,886.9 L340.5,889.2 L339.5,889.9 L338.5,885.9 L337.5,891.1 L336.5,888.2 L335.5,888.1 L334.5,887.0 L333.5,888.7 L332.5,889.1 L331.5,890.0 L330.5,890.0 L329.5,889.9 L328.5,888.4 L327.5,888.4 L326.5,888.7 L325.5,888.8 L324.5,890.6 L323.5,890.1 L322.5,888.5 L321.5,887.5 L320.5,886.2 L319.5,888.7 L318.5,889.1 L317.5,886.4 L316.5,888.6 L315.5,889.6 L314.5,889.6 L313.5,887.4 L312.5,888.4 L311.5,887.4 L310.5,890.8 L309.5,890.0 L308.5,892.4 L307.5,888.8 L306.5,891.9 L305.5,889.8 L304.5,889.9 L303.5,891.4 L302.5,887.0 L301.5,888.0 L300.5,892.0 L299.5,891.3 L298.5,892.6 L297.5,890.8 L296.5,889.3 L295.5,891.3 L294.5,889.5 L293.5,890.1 L292.5,890.1 L291.5,889.1 L290.5,893.2 L289.5,891.5 L288.5,890.7 L287.5,891.3 L286.5,889.9 L285.5,890.2 L284.5,891.0 L283.5,891.3 L282.5,888.0 L281.5,892.7 L280.5,888.1 L279.5,889.5 L278.5,889.0 L277.5,891.2 L276.5,888.6 L275.5,892.5 L274.5,892.2 L273.5,892.5 L272.5,892.4 L271.5,891.0 L270.5,892.1 L269.5,890.4 L268.5,891.1 L267.5,892.4 L266.5,889.9 L265.5,891.5 L264.5,891.2 L263.5,893.3 L262.5,892.8 L261.5,891.4 L260.5,893.3 L259.5,894.8 L258.5,893.5 L257.5,892.2 L256.5,892.3 L255.5,890.7 L254.5,891.5 L253.5,892.5 L252.5,892.8 L251.5,890.1 L250.5,890.2 L249.5,890.4 L248.5,890.4 L247.5,891.2 L246.5,891.9 L245.5,890.4 L244.5,891.1 L243.5,889.3 L242.5,891.7 L241.5,892.5 L240.5,891.4 L239.5,889.9 L238.5,895.0 L237.5,890.9 L236.5,892.7 L235.5,889.5 L234.5,891.1 L233.5,892.4 L232.5,892.1 L231.5,892.6 L230.5,892.5 L229.5,891.4 L228.5,891.2 L227.5,892.4 L226.5,891.8 L225.5,892.0 L224.5,893.5 L223.5,893.2 L222.5,892.2 L221.5,894.5 L220.5,892.9 L219.5,892.5 L218.5,894.1 L217.5,893.1 L216.5,890.5 L215.5,893.4 L214.5,890.4 L213.5,892.4 L212.5,893.2 L211.5,893.8 L210.5,891.6 L209.5,892.4 L208.5,894.2 L207.5,896.0 L206.5,896.1 L205.5,894.6 L204.5,895.8 L203.5,892.7 L202.5,893.2 L201.5,894.7 L200.5,894.7 L199.5,891.4" stroke="#00f" stroke-width="2.9"/>
<path d="M199.5,895.9 L200.5,895.6 L201.5,894.5 L202.5,895.5 L203.5,893.6 L204.5,891.8 L205.5,896.9 L206.5,895.2 L207.5,891.7 L208.5,892.9 L209.5,893.5 L210.5,894.8 L211.5,896.3 L212.5,894.9 L213.5,893.7 L214.5,895.0 L215.5,894.1 L216.5,894.7 L217.5,893.5 L218.5,892.8 L219.5,896.3 L220.5,894.0 L221.5,894.8 L222.5,893.8 L223.5,893.9 L224.5,894.1 L225.5,895.6 L226.5,896.3 L227.5,895.3 L228.5,893.6 L229.5,897.0 L230.5,895.4 L231.5,895.6 L232.5,893.4 L233.5,893.8 L234.5,895.1 L235.5,891.6 L236.5,893.1 L237.5,894.8 L238.5,896.9 L239.5,894.7 L240.5,892.6 L241.5,892.5 L242.5,895.7 L243.5,893.1 L244.5,893.8 L245.5,896.9 L246.5,894.1 L247.5,893.6 L248.5,892.9 L249.5,896.1 L250.5,896.1 L251.5,893.2 L252.5,892.1 L253.5,894.0 L254.6,896.2 L255.6,894.9 L256.6,892.4 L257.6,894.7 L258.6,895.3 L259.6,894.2 L260.6,894.4 L261.6,894.2 L262.6,893.5 L263.6,893.3 L264.6,892.2 L265.6,892.3 L266.6,891.5 L267.6,894.7 L268.6,894.8 L269.6,894.2 L270.6,894.7 L271.6,894.0 L272.6,892.9 L273.6,894.2 L274.6,893.3 L275.6,893.5 L276.6,891.0 L277.6,893.0 L278.6,894.3 L279.6,893.1 L280.6,892.4 L281.6,891.4 L282.6,892.8 L283.6,895.8 L284.6,892.8 L285.6,895.1 L286.6,892.8 L287.6,895.0 L288.6,892.9 L289.6,894.3 L290.6,894.7 L291.6,894.5 L292.6,892.3 L293.6,893.0 L294.6,892.2 L295.6,893.3 L296.6,893.0 L297.6,893.1 L298.6,894.4 L299.6,891.9 L300.6,892.3 L301.6,892.5 L302.6,893.0 L303.6,892.2 L304.6,894.1 L305.6,891.7 L306.6,895.9 L307.6,893.4 L308.6,895.0 L309.6,891.7 L310.6,892.8 L311.6,893.5 L312.6,895.9 L313.6,893.4 L314.6,895.4 L315.6,892.2 L316.6,895.3 L317.6,892.2 L318.6,890.4 L319.6,890.2 L320.6,893.3 L321.6,892.7 L322.6,893.4 L323.6,892.9 L324.6,893.7 L325.6,895.3 L326.6,892.6 L327.6,893.3 L328.6,892.3 L329.6,890.4 L330.6,892.5 L331.6,895.1 L332.6,891.8 L333.6,895.5 L334.6,893.6 L335.6,893.4 L336.6,894.1 L337.6,892.7 L338.6,892.7 L339.6,894.7 L340.6,891.6 L341.6,892.4 L342.6,890.9 L343.6,892.7 L344.6,895.2 L345.6,894.2 L346.6,891.2 L347.6,889.9 L348.6,893.3 L349.6,893.5 L350.6,891.7 L351.6,894.4 L352.6,893.0 L353.6,893.5 L354.6,893.6 L355.6,893.9 L356.6,891.6 L357.6,891.4 L358.6,894.3 L359.6,892.2 L360.6,890.6 L361.6,892.8 L362.6,891.6 L363.6,892.7 L364.6,894.8 L365.6,894.7 L366.6,891.5 L367.6,890.4 L368.6,892.1 L369.6,890.5 L370.6,892.2 L371.6,892.1 L372.6,892.6 L373.6,891.6 L374.6,889.5 L375.6,891.3 L376.6,891.5 L377.6,891.6 L378.6,893.0 L379.6,889.6 L380.6,890.9 L381.6,890.2 L382.6,889.9 L383.6,892.0 L384.6,890.1 L385.6,893.5 L386.6,888.0 L387.6,893.0 L388.6,890.4 L389.6,888.9 L390.6,890.9 L391.6,890.8 L392.6,891.8 L393.6,892.1 L394.6,889.1 L395.6,890.2 L396.6,890.7 L397.6,890.4 L398.6,889.6 L399.6,892.0 L400.6,890.5 L401.6,888.1 L402.6,890.2 L403.6,889.5 L404.6,889.4 L405.6,891.0 L406.6,890.6 L407.6,889.8 L408.6,889.9 L409.6,890.4 L410.6,888.1 L411.6,889.0 L412.6,890.6 L413.6,888.0 L414.6,888.0 L415.6,887.6 L416.6,889.9 L417.6,887.6 L418.6,889.9 L419.6,887.8 L420.6,888.6 L421.6,888.8 L422.6,887.5 L423.6,886.8 L424.6,889.5 L425.6,887.5 L426.6,888.8 L427.6,889.1 L428.6,886.0 L429.6,889.7 L430.6,888.1 L431.6,887.3 L432.6,887.3 L433.6,887.1 L434.6,888.1 L435.6,890.3 L436.6,887.4 L437.6,885.8 L438.6,887.0 L439.6,889.8 L440.6,887.2 L441.5,889.7 L442.5,885.8 L443.5,885.8 L444.5,885.1 L445.5,885.2 L446.5,886.3 L447.5,886.4 L448.5,883.7 L449.4,884.5 L450.4,884.7 L451.4,885.3 L452.4,887.6 L453.4,887.6 L454.4,885.9 L455.4,886.2 L456.3,883.7 L457.3,885.1 L458.3,882.1 L459.3,884.2 L460.3,884.4 L461.3,884.9 L462.2,883.3 L463.2,883.0 L464.2,881.5 L465.2,880.3 L466.2,881.7 L467.2,879.8 L468.2,881.6 L469.2,881.6 L470.2,879.9 L471.1,879.3 L472.1,881.3 L473.1,880.6 L474.1,882.0 L475.1,882.5 L476.1,883.5 L477.1,882.4 L478.1,879.5 L479.1,880.6 L480.1,883.5 L481.1,879.2 L482.0,879.9 L483.0,882.0 L484.0,880.8 L485.0,879.0 L486.0,880.2 L487.0,878.7 L488.0,880.6 L489.0,879.0 L490.0,879.1 L490.9,879.1 L491.9,876.2 L492.9,878.2 L493.9,878.7 L494.9,878.2 L495.8,877.1 L496.8,877.5 L497.8,879.3 L498.8,878.1 L499.8,876.1 L500.7,878.3 L501.7,877.1 L502.7,875.8 L503.7,873.8 L504.7,876.9 L505.7,874.3 L506.6,876.1 L507.6,877.1 L508.6,876.2 L509.6,873.6 L510.6,873.7 L511.5,875.6 L512.5,875.9 L513.5,874.1 L514.5,873.6 L515.5,876.0 L516.4,875.6 L517.4,873.6 L518.4,872.5 L519.3,873.4 L520.3,870.8 L521.2,872.2 L522.1,871.8 L523.1,872.5 L524.0,871.4 L524.9,868.2 L525.9,872.5 L526.9,870.7 L527.8,867.2 L528.8,867.5 L529.7,870.0 L530.6,867.3 L531.6,869.4 L532.5,867.0 L533.4,866.1 L534.3,869.1 L535.2,868.7 L536.1,866.2 L536.9,867.5 L537.8,865.7 L538.7,865.4 L539.5,864.2 L540.4,864.3 L541.2,864.4 L542.0,863.7 L542.8,863.2 L543.5,862.5 L544.3,861.1 L545.0,859.8 L545.8,859.8 L546.5,859.0 L547.2,857.8 L547.8,856.8 L548.5,856.2 L549.2,855.2 L549.8,854.7 L550.5,854.3 L551.1,854.0 L551.8,852.8 L552.4,851.8 L553.1,851.1 L553.7,850.4 L554.4,850.2 L555.0,849.0 L555.6,847.5 L556.2,847.3 L556.8,846.0 L557.4,845.5 L558.0,844.9 L558.5,843.8 L559.1,843.1 L559.6,842.6 L560.1,841.2 L560.7,840.8 L561.2,839.9 L561.7,839.0 L562.2,837.8 L562.6,837.2 L563.1,836.2 L563.6,835.4 L564.0,834.4 L564.5,833.7 L564.9,832.5 L565.4,831.8 L565.8,830.9 L566.2,830.1 L566.7,828.9 L567.1,828.0 L567.5,827.2 L567.9,826.3 L568.3,825.3 L568.7,824.5 L569.1,823.5 L569.4,822.6 L569.8,821.6 L570.1,820.7 L570.4,819.8 L570.7,818.8 L571.0,817.9 L571.3,816.9 L571.5,815.9 L571.8,814.9 L572.1,814.0 L572.3,813.0 L572.5,812.0 L572.8,811.0 L573.0,810.1 L573.3,809.1 L573.5,808.1 L573.7,807.1 L573.9,806.2 L574.2,805.2 L574.4,804.2 L574.6,803.2 L574.8,802.3 L575.0,801.3 L575.2,800.3 L575.3,799.3 L575.5,798.3 L575.7,797.3 L575.9,796.4 L576.0,795.4 L576.2,794.4 L576.4,793.4 L576.5,792.4 L576.7,791.4 L576.8,790.4 L577.0,789.4 L577.1,788.4 L577.3,787.5 L577.4,786.5 L577.5,785.5 L577.7,784.5 L577.8,783.5 L577.9,782.5 L578.1,781.5 L578.2,780.5 L578.3,779.5 L578.4,778.5 L578.6,777.5 L578.7,776.5 L578.8,775.5 L578.9,774.5 L579.0,773.5 L579.1,772.6 L579.2,771.6 L579.3,770.6 L579.4,769.6 L579.6,768.6 L579.7,767.6 L579.8,766.6 L579.9,765.6 L580.0,764.6 L580.1,763.6 L580.2,762.6 L580.3,761.6 L580.4,760.6 L580.5,759.6 L580.5,758.6 L580.6,757.6 L580.7,756.6 L580.8,755.6 L580.9,754.6 L581.0,753.6 L581.1,752.6 L581.2,751.6 L581.3,750.6 L581.4,749.6 L581.5,748.6 L581.5,747.6 L581.6,746.6 L581.7,745.7 L581.8,744.7 L581.9,743.7 L582.0,742.7 L582.0,741.7 L582.1,740.7 L582.2,739.7 L582.3,738.7 L582.3,737.7 L582.4,736.7 L582.5,735.7 L582.6,734.7 L582.6,733.7 L582.7,732.7 L582.8,731.7 L582.9,730.7 L582.9,729.7 L583.0,728.7 L583.1,727.7 L583.2,726.7 L583.2,725.7 L583.3,724.7 L583.4,723.7 L583.5,722.7 L583.6,721.7 L583.6,720.7 L583.7,719.7 L583.8,718.7 L583.9,717.7 L584.0,716.7 L584.1,715.7 L584.2,714.7 L584.3,713.7 L584.4,712.7 L584.5,711.7 L584.6,710.7 L584.7,709.7 L584.8,708.7 L584.9,707.7 L585.0,706.8 L585.1,705.8 L585.2,704.8 L585.3,703.8 L585.3,702.8 L585.4,701.8 L585.5,700.8 L585.5,699.8 L585.6,698.8 L585.6,697.8 L585.6,696.8 L585.7,695.8 L585.7,694.8 L585.8,693.8 L585.8,692.8 L585.8,691.8 L585.9,690.8 L585.9,689.8 L585.9,688.8 L586.0,687.8 L586.0,686.8 L586.0,685.8 L586.0,684.8 L586.1,683.8 L586.1,682.8 L586.1,681.8 L586.1,680.8 L586.2,679.8 L586.2,678.8 L586.2,677.8 L586.3,676.8 L586.3,675.8 L586.3,674.8 L586.3,673.8 L586.4,672.8 L586.4,671.8 L586.4,670.8 L586.4,669.8 L586.5,668.8 L586.5,667.8 L586.5,666.8 L586.6,665.8 L586.6,664.8 L586.6,663.7 L586.7,662.7 L586.7,661.7 L586.7,660.7 L586.7,659.7 L586.8,658.7 L586.8,657.7 L586.8,656.7 L586.9,655.7 L586.9,654.7 L586.9,653.7 L587.0,652.7 L587.0,651.7 L587.0,650.7 L587.1,649.7 L587.1,648.7 L587.1,647.7 L587.2,646.7 L587.2,645.7 L587.2,644.7 L587.3,643.7 L587.3,642.7 L587.3,641.7 L587.4,640.7 L587.4,639.7 L587.5,638.7 L587.5,637.7 L587.6,636.7 L587.6,635.7 L587.7,634.7 L587.7,633.7 L587.8,632.7 L587.9,631.7 L587.9,630.7 L588.0,629.7 L588.0,628.7 L588.1,627.8 L588.2,626.8 L588.2,625.8 L588.3,624.8 L588.4,623.8 L588.5,622.8 L588.5,621.8 L588.6,620.8 L588.7,619.8 L588.7,618.8 L588.8,617.8 L588.9,616.8 L589.0,615.8 L589.0,614.8 L589.1,613.8 L589.2,612.8 L589.3,611.8 L589.3,610.8 L589.4,609.8 L589.5,608.8 L589.6,607.8 L589.6,606.8 L589.7,605.8 L589.8,604.8 L589.8,603.8 L589.9,602.8 L590.0,601.8 L590.0,600.8 L590.1,599.8 L590.2,598.8 L590.2,597.8 L590.3,596.8 L590.4,595.8 L590.4,594.8 L590.5,593.8 L590.6,592.8 L590.6,591.8 L590.7,590.8 L590.8,589.8 L590.8,588.8 L590.9,587.8 L590.9,586.8 L591.0,585.8 L591.1,584.8 L591.1,583.8 L591.2,582.8 L591.3,581.8 L591.4,580.8 L591.4,579.8 L591.5,578.8 L591.6,577.8 L591.7,576.8 L591.8,575.8 L591.9,574.8 L591.9,573.8 L592.0,572.8 L592.1,571.8 L592.2,570.8 L592.3,569.8 L592.4,568.8 L592.5,567.9 L592.6,566.9 L592.7,565.9 L592.8,564.9 L592.9,563.9 L593.0,562.9 L593.1,561.9 L593.2,560.9 L593.3,559.9 L593.4,558.9 L593.5,557.9 L593.6,556.9 L593.7,555.9 L593.8,554.9 L593.9,553.9 L594.0,552.9 L594.2,551.9 L594.3,550.9 L594.4,549.9 L594.5,548.9 L594.7,547.9 L594.8,547.0 L595.0,546.0 L595.1,545.0 L595.3,544.0 L595.4,543.0 L595.6,542.0 L595.8,541.0 L596.0,540.1 L596.2,539.1 L596.4,538.1 L596.5,537.1 L596.7,536.1 L596.9,535.1 L597.1,534.2 L597.3,533.2 L597.5,532.2 L597.7,531.2 L597.9,530.2 L598.1,529.2 L598.3,528.3 L598.5,527.3 L598.8,526.3 L599.0,525.4 L599.3,524.4 L599.5,523.4 L599.8,522.4 L600.1,521.5 L600.4,520.6 L600.7,519.6 L601.0,518.7 L601.4,517.8 L601.7,516.7 L602.0,515.8 L602.4,514.9 L602.7,513.9 L603.1,512.9 L603.5,512.1 L603.9,511.1 L604.3,510.1 L604.7,509.3 L605.1,508.4 L605.5,507.7 L605.9,506.6 L606.3,505.6 L606.8,504.8 L607.2,503.7 L607.6,503.0 L608.0,502.0 L608.4,501.2 L608.8,500.2 L609.3,499.4 L609.7,498.5 L610.1,497.3 L610.5,496.5 L610.9,495.7 L611.3,494.7 L611.8,493.7 L612.2,492.9 L612.6,492.0 L613.0,491.2 L613.4,490.2 L613.8,489.3 L614.2,488.5 L614.7,487.5 L615.1,486.5 L615.5,485.5 L615.9,484.8 L616.3,483.7 L616.8,483.0 L617.2,482.0 L617.6,480.9 L617.9,480.2 L618.3,479.2 L618.7,478.3 L619.0,477.3 L619.3,476.4 L619.6,475.3 L619.9,474.4 L620.3,473.5 L620.6,472.6 L620.9,471.6 L621.3,470.7 L621.7,469.9 L622.1,468.9 L622.5,468.0 L623.0,467.0 L623.5,466.4 L624.1,465.0 L624.6,464.1 L625.2,464.1 L625.9,463.3 L626.5,462.3 L627.1,461.2 L627.8,461.2 L628.4,460.2 L629.0,458.7 L629.7,458.4 L630.4,457.8 L631.1,456.5 L631.8,455.0 L632.5,455.1 L633.3,455.0 L634.1,454.8 L634.9,453.1 L635.8,453.9 L636.7,453.1 L637.7,453.7 L638.7,451.0 L639.7,451.3 L640.7,452.7 L641.6,453.1 L642.6,451.7 L643.5,452.2 L644.5,451.5 L645.5,449.8 L646.5,452.8 L647.5,449.3 L648.4,448.8 L649.4,450.1 L650.4,450.8 L651.4,450.1 L652.4,448.3 L653.3,447.3 L654.3,449.4 L655.3,448.9 L656.3,447.2 L657.3,447.4 L658.3,449.7 L659.3,449.0 L660.3,445.0 L661.3,446.6 L662.2,449.2 L663.2,446.5 L664.2,444.4 L665.2,445.4 L666.2,448.4 L667.2,445.5 L668.2,447.6 L669.2,445.0 L670.2,447.9 L671.2,446.0 L672.2,446.7 L673.2,446.3 L674.2,445.4 L675.2,443.4 L676.2,447.2 L677.1,447.0 L678.1,446.6 L679.1,446.9 L680.1,444.5 L681.1,446.1 L682.1,443.0 L683.1,442.7 L684.1,445.1 L685.1,442.1 L686.1,445.5 L687.1,444.1 L688.1,444.2 L689.0,442.8 L690.0,444.2 L691.0,444.7 L692.0,441.6 L693.0,442.1 L694.0,443.8 L695.0,441.2 L696.0,443.7 L697.0,441.3 L698.0,442.0 L699.0,443.5 L700.0,443.5 L701.0,440.9 L702.0,444.9 L703.0,441.9 L704.0,441.4 L705.0,443.5 L706.0,442.6 L707.0,445.0 L707.9,441.3 L708.9,439.7 L709.9,439.6 L710.9,441.0 L711.9,442.0 L712.9,442.6 L713.9,442.6 L714.9,443.1 L715.9,440.9 L716.9,440.1 L717.9,443.8 L718.9,443.8 L719.9,440.3 L720.9,441.1 L721.9,440.2 L722.9,443.3 L723.9,442.4 L724.9,437.8 L725.9,440.7 L726.9,439.7 L727.9,441.0 L728.9,439.8 L729.9,440.7 L730.9,439.3 L731.9,441.9 L732.9,439.7 L733.9,441.9 L734.9,438.4 L735.9,441.0 L736.9,441.0 L737.9,440.4 L738.9,439.7 L739.9,438.4 L740.9,439.2 L741.9,438.4 L742.9,441.1 L743.9,440.4 L744.9,440.8 L745.9,441.1 L746.9,438.2 L747.9,439.0 L748.9,439.0 L749.9,438.6 L750.9,438.4 L751.9,438.0 L752.9,439.0 L753.9,442.3 L754.9,440.2 L755.9,440.2 L756.9,440.0 L757.9,437.8 L758.9,439.9 L759.9,439.1 L760.9,439.5 L761.9,438.6 L762.9,442.2 L763.9,437.1 L764.9,438.9 L765.9,438.3 L766.9,438.6 L767.9,441.2 L768.9,441.6 L769.9,440.1 L770.9,437.8 L771.9,440.7 L773.0,439.2 L774.0,436.7 L775.0,439.9 L776.0,438.8 L777.0,439.0 L778.0,440.3 L779.0,441.3 L780.0,437.5 L781.0,439.6 L782.0,439.7 L783.0,439.5 L784.0,439.0 L785.0,441.2 L786.0,438.0 L787.0,438.7 L788.0,441.7 L789.0,439.1 L790.0,440.2 L791.0,441.7 L792.0,437.7 L793.0,436.3 L794.0,436.0 L795.0,438.5 L796.0,438.5 L797.0,437.9 L798.0,439.6 L799.0,440.9 L800.0,439.4 L801.0,437.9 L802.0,436.4 L803.0,438.5 L804.0,439.1 L805.0,440.6 L806.0,437.0 L807.0,437.2 L808.0,436.0 L809.0,437.6 L810.0,439.8 L811.0,440.2 L812.0,438.3 L813.0,436.8 L814.0,439.0 L815.0,437.0 L816.0,437.3 L817.0,441.4 L818.0,437.2 L819.0,438.4 L820.0,438.1 L821.0,439.4 L822.0,437.0 L823.0,437.6 L824.0,440.0 L825.0,437.2 L826.0,437.1 L827.0,437.0 L828.0,435.8 L829.0,435.6 L830.0,438.7 L831.0,436.4 L832.0,437.0" stroke="#00f" stroke-width="2.9"/>
</g>
<!-- main axes -->
<g stroke="#000" stroke-width="2.5" fill="none">
<path d="M198.5,388.3 V958" />
<path d="M186.5,946.3 H832" />
<path d="M192.2,911.57 H198.5"/>
<path d="M186.5,876.79 H198.5"/>
<path d="M192.2,842.01 H198.5"/>
<path d="M186.5,807.23 H198.5"/>
<path d="M192.2,772.44 H198.5"/>
<path d="M186.5,737.66 H198.5"/>
<path d="M192.2,702.88 H198.5"/>
<path d="M186.5,668.10 H198.5"/>
<path d="M192.2,633.32 H198.5"/>
<path d="M186.5,598.54 H198.5"/>
<path d="M192.2,563.76 H198.5"/>
<path d="M186.5,528.98 H198.5"/>
<path d="M192.2,494.19 H198.5"/>
<path d="M186.5,459.41 H198.5"/>
<path d="M192.2,424.63 H198.5"/>
<path d="M186.5,389.85 H198.5"/>
<path d="M293.10,946 V952.3"/>
<path d="M387.70,946 V958.0"/>
<path d="M482.30,946 V952.3"/>
<path d="M576.90,946 V958.0"/>
<path d="M671.50,946 V952.3"/>
<path d="M766.10,946 V958.0"/>
<path d="M860.70,946 V952.3"/>
</g>
<g fill="#000">
<text transform="translate(108.96,956.75) scale(1,1.03)" font-size="35.7px" fill="#000">-200</text>
<text transform="translate(108.96,887.19) scale(1,1.03)" font-size="35.7px" fill="#000">-</text><path transform="translate(120.85,887.19) scale(0.01743,-0.01743)" d="M763 0H583V1147Q518 1085 412.5 1023T223 930V1104Q374 1175 487 1276T647 1472H763Z" fill="#000"/><text transform="translate(140.70,887.19) scale(1,1.03)" font-size="35.7px" fill="#000">50</text>
<text transform="translate(108.96,817.62) scale(1,1.03)" font-size="35.7px" fill="#000">-</text><path transform="translate(120.85,817.62) scale(0.01743,-0.01743)" d="M763 0H583V1147Q518 1085 412.5 1023T223 930V1104Q374 1175 487 1276T647 1472H763Z" fill="#000"/><text transform="translate(140.70,817.62) scale(1,1.03)" font-size="35.7px" fill="#000">00</text>
<text transform="translate(128.81,748.06) scale(1,1.03)" font-size="35.7px" fill="#000">-50</text>
<text transform="translate(160.55,678.50) scale(1,1.03)" font-size="35.7px" fill="#000">0</text>
<text transform="translate(140.70,608.94) scale(1,1.03)" font-size="35.7px" fill="#000">50</text>
<path transform="translate(120.85,539.38) scale(0.01743,-0.01743)" d="M763 0H583V1147Q518 1085 412.5 1023T223 930V1104Q374 1175 487 1276T647 1472H763Z" fill="#000"/><text transform="translate(140.70,539.38) scale(1,1.03)" font-size="35.7px" fill="#000">00</text>
<path transform="translate(120.85,469.81) scale(0.01743,-0.01743)" d="M763 0H583V1147Q518 1085 412.5 1023T223 930V1104Q374 1175 487 1276T647 1472H763Z" fill="#000"/><text transform="translate(140.70,469.81) scale(1,1.03)" font-size="35.7px" fill="#000">50</text>
<text transform="translate(120.85,400.25) scale(1,1.03)" font-size="35.7px" fill="#000">200</text>
<text transform="translate(172.71,992.40) scale(1,1.03)" font-size="35.7px" fill="#000">-</text><path transform="translate(184.59,992.40) scale(0.01743,-0.01743)" d="M763 0H583V1147Q518 1085 412.5 1023T223 930V1104Q374 1175 487 1276T647 1472H763Z" fill="#000"/><text transform="translate(204.44,992.40) scale(1,1.03)" font-size="35.7px" fill="#000">0</text>
<text transform="translate(371.83,992.40) scale(1,1.03)" font-size="35.7px" fill="#000">-5</text>
<text transform="translate(566.98,992.40) scale(1,1.03)" font-size="35.7px" fill="#000">0</text>
<text transform="translate(756.18,992.40) scale(1,1.03)" font-size="35.7px" fill="#000">5</text>
<text transform="translate(515.88,1050.30) scale(1,1.03)" font-size="35.5px" fill="#000">H (kOe)</text>
<text transform="translate(76.8,691.6) rotate(-90)" text-anchor="middle" font-size="35.5px">moment (<tspan font-family="Liberation Serif" font-size="34px">&#956;</tspan>emu)</text>
</g>
<!-- legend -->
<rect x="262.5" y="699" width="154.5" height="103" fill="#fff" stroke="#222" stroke-width="1.2"/>
<g stroke-width="3.2" fill="none">
<path d="M269.8,719.3 H333.2" stroke="#000"/>
<path d="M269.8,752.8 H333.2" stroke="#f00"/>
<path d="M269.8,786.4 H333.2" stroke="#00f"/>
</g>
<text transform="translate(339.30,728.30) scale(1,1.03)" font-size="26.7px" fill="#000">Run </text><path transform="translate(395.69,728.30) scale(0.01304,-0.01304)" d="M763 0H583V1147Q518 1085 412.5 1023T223 930V1104Q374 1175 487 1276T647 1472H763Z" fill="#000"/>
<text transform="translate(339.30,761.80) scale(1,1.03)" font-size="26.7px" fill="#000">Run 2</text>
<text transform="translate(339.30,795.40) scale(1,1.03)" font-size="26.7px" fill="#000">Run 3</text>
<!-- arrows -->
<g stroke="#000" stroke-width="3" fill="#000" stroke-linejoin="round">
<path d="M520.7,823 V697" fill="none"/>
<path d="M520.7,684.2 L524.8,698.8 H516.6 Z" stroke-width="1.4"/>
<path d="M600.4,924.5 V734" fill="none"/>
<path d="M600.4,720.5 L604.5,735.5 H596.3 Z" stroke-width="1.4"/>
</g>
<text transform="translate(490.20,848.00) scale(1,1.04)" font-size="36.3px" fill="#000">H</text>
<text transform="translate(516.00,862.20) scale(1,1.04)" font-size="22px" fill="#000">C2</text>
<text transform="translate(610.50,908.20) scale(1,1.04)" font-size="42.8px" fill="#000">H</text>
<text transform="translate(641.30,925.10) scale(1,1.04)" font-size="26px" fill="#000">C</text><path transform="translate(660.07,925.10) scale(0.01270,-0.01270)" d="M763 0H583V1147Q518 1085 412.5 1023T223 930V1104Q374 1175 487 1276T647 1472H763Z" fill="#000"/>
<!-- inset -->
<g stroke="#000" stroke-width="2.6" fill="none">
<path d="M655.3,510.1 V813.7" />
<path d="M654.1,511.2 H832" />
<path d="M654.1,806.4 H832" />
<path d="M648.3,694.2 H832" />
<path d="M651.3,799.6 H655.3"/>
<path d="M648.3,764.5 H655.3"/>
<path d="M651.3,729.3 H655.3"/>
<path d="M651.3,659.1 H655.3"/>
<path d="M648.3,624.0 H655.3"/>
<path d="M651.3,588.8 H655.3"/>
<path d="M648.3,553.7 H655.3"/>
<path d="M651.3,518.6 H655.3"/>
<path d="M699.8,806.4 V810.6"/>
<path d="M699.8,511.2 V515.4"/>
<path d="M744.4,806.4 V813.7"/>
<path d="M744.4,511.2 V518.5"/>
<path d="M788.9,806.4 V810.6"/>
<path d="M788.9,511.2 V515.4"/>
</g>
<path d="M690.6,535.3 L719.6,580.8" stroke="#000" stroke-width="2.3"/>
<path d="M735.6,598.1 L758.4,615.5" stroke="#000" stroke-width="2.3"/>
<path d="M778.9,627.8 L798.7,637.2" stroke="#000" stroke-width="2.3"/>
<path d="M821.3,644.8 L839.3,648.5" stroke="#000" stroke-width="2.3"/>
<path d="M695.5,787.1 L714.7,780.5" stroke="#f00" stroke-width="2.3"/>
<path d="M736.8,771.4 L757.1,761.7" stroke="#f00" stroke-width="2.3"/>
<path d="M779.0,752.0 L798.4,744.1" stroke="#f00" stroke-width="2.3"/>
<path d="M821.0,735.9 L839.5,730.1" stroke="#f00" stroke-width="2.3"/>
<circle cx="684.2" cy="525.2" r="9.2" fill="url(#gb)"/>
<circle cx="726.0" cy="590.9" r="9.2" fill="url(#gb)"/>
<circle cx="768.0" cy="622.7" r="9.2" fill="url(#gb)"/>
<circle cx="809.6" cy="642.3" r="9.2" fill="url(#gb)"/>
<circle cx="851" cy="651" r="9.2" fill="url(#gb)"/>
<circle cx="684.2" cy="791.1" r="9.2" fill="url(#gr)"/>
<circle cx="726.0" cy="776.5" r="9.2" fill="url(#gr)"/>
<circle cx="767.9" cy="756.6" r="9.2" fill="url(#gr)"/>
<circle cx="809.5" cy="739.5" r="9.2" fill="url(#gr)"/>
<circle cx="851" cy="726.5" r="9.2" fill="url(#gr)"/>
<text transform="translate(627.69,562.90) scale(1,1.025)" font-size="33.3px" fill="#000">2</text>
<path transform="translate(627.69,633.15) scale(0.01626,-0.01626)" d="M763 0H583V1147Q518 1085 412.5 1023T223 930V1104Q374 1175 487 1276T647 1472H763Z" fill="#000"/>
<text transform="translate(627.69,703.40) scale(1,1.025)" font-size="33.3px" fill="#000">0</text>
<text transform="translate(616.60,773.65) scale(1,1.025)" font-size="33.3px" fill="#000">-</text><path transform="translate(627.69,773.65) scale(0.01626,-0.01626)" d="M763 0H583V1147Q518 1085 412.5 1023T223 930V1104Q374 1175 487 1276T647 1472H763Z" fill="#000"/>
<text transform="translate(645.74,841.00) scale(1,1.025)" font-size="33.3px" fill="#000">0</text>
<text transform="translate(735.74,841.00) scale(1,1.025)" font-size="33.3px" fill="#000">5</text>
<path transform="translate(815.09,841.00) scale(0.01626,-0.01626)" d="M763 0H583V1147Q518 1085 412.5 1023T223 930V1104Q374 1175 487 1276T647 1472H763Z" fill="#000"/><text transform="translate(833.60,841.00) scale(1,1.025)" font-size="33.3px" fill="#000">0</text>
<text transform="translate(798.00,893.20) scale(1,1.03)" font-size="31.5px" fill="#000">d</text>
<text transform="translate(817.20,905.80) scale(1,1.04)" font-size="19.5px" fill="#000">F</text>
<text transform="translate(726.70,559.90) scale(1,1.04)" font-size="43.4px" fill="#000">H</text>
<text x="758.20" y="577.00" font-size="26px" fill="#000">c</text>
<text transform="translate(811.60,784.20) scale(1,1.04)" font-size="34.4px" fill="#f00">H</text>
</svg>
</body></html>
